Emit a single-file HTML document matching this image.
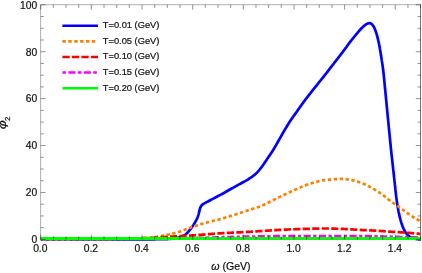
<!DOCTYPE html>
<html><head><meta charset="utf-8"><title>plot</title>
<style>
html,body{margin:0;padding:0;background:#fff;}
body{width:422px;height:273px;overflow:hidden;font-family:"Liberation Sans",sans-serif;}
svg{display:block;will-change:transform;}
</style></head><body>
<svg width="422" height="273" viewBox="0 0 422 273">
<rect x="0" y="0" width="422" height="273" fill="#ffffff"/>
<defs><clipPath id="clip"><rect x="40.3" y="3" width="380.7" height="238.2"/></clipPath></defs>
<path d="M40.6,239.4 V4.7 H420.5" stroke="#9a9a9a" stroke-width="0.8" fill="none"/>
<path d="M40.6,239.4 H420.5" stroke="#777" stroke-width="0.9" fill="none"/>
<g fill="none" stroke-linejoin="round" clip-path="url(#clip)">
<path d="M40.50,239.30 L41.00,239.30 L41.50,239.30 L42.00,239.30 L42.50,239.30 L43.00,239.30 L43.50,239.30 L44.00,239.30 L44.50,239.30 L45.00,239.30 L45.50,239.30 L46.00,239.30 L46.50,239.30 L47.00,239.30 L47.50,239.30 L48.00,239.30 L48.50,239.30 L49.00,239.30 L49.50,239.30 L50.00,239.30 L50.50,239.30 L51.00,239.30 L51.50,239.30 L52.00,239.30 L52.50,239.30 L53.00,239.30 L53.50,239.30 L54.00,239.30 L54.50,239.30 L55.00,239.30 L55.50,239.30 L56.00,239.30 L56.50,239.30 L57.00,239.30 L57.50,239.30 L58.00,239.30 L58.50,239.30 L59.00,239.30 L59.50,239.30 L60.00,239.30 L60.50,239.30 L61.00,239.30 L61.50,239.30 L62.00,239.30 L62.50,239.30 L63.00,239.30 L63.50,239.30 L64.00,239.30 L64.50,239.30 L65.00,239.30 L65.50,239.30 L66.00,239.30 L66.50,239.30 L67.00,239.30 L67.50,239.30 L68.00,239.30 L68.50,239.30 L69.00,239.30 L69.50,239.30 L70.00,239.30 L70.50,239.30 L71.00,239.30 L71.50,239.30 L72.00,239.30 L72.50,239.30 L73.00,239.30 L73.50,239.30 L74.00,239.30 L74.50,239.30 L75.00,239.30 L75.50,239.30 L76.00,239.30 L76.50,239.30 L77.00,239.30 L77.50,239.30 L78.00,239.30 L78.50,239.30 L79.00,239.30 L79.50,239.30 L80.00,239.30 L80.50,239.30 L81.00,239.30 L81.50,239.30 L82.00,239.30 L82.50,239.30 L83.00,239.30 L83.50,239.30 L84.00,239.30 L84.50,239.30 L85.00,239.30 L85.50,239.30 L86.00,239.30 L86.50,239.30 L87.00,239.30 L87.50,239.30 L88.00,239.30 L88.50,239.30 L89.00,239.30 L89.50,239.30 L90.00,239.30 L90.50,239.30 L91.00,239.30 L91.50,239.30 L92.00,239.30 L92.50,239.30 L93.00,239.30 L93.50,239.30 L94.00,239.30 L94.50,239.30 L95.00,239.30 L95.50,239.30 L96.00,239.30 L96.50,239.30 L97.00,239.30 L97.50,239.30 L98.00,239.30 L98.50,239.30 L99.00,239.30 L99.50,239.30 L100.00,239.30 L100.50,239.30 L101.00,239.30 L101.50,239.30 L102.00,239.30 L102.50,239.30 L103.00,239.30 L103.50,239.30 L104.00,239.30 L104.50,239.30 L105.00,239.30 L105.50,239.30 L106.00,239.30 L106.50,239.30 L107.00,239.30 L107.50,239.30 L108.00,239.30 L108.50,239.30 L109.00,239.30 L109.50,239.30 L110.00,239.30 L110.50,239.30 L111.00,239.30 L111.50,239.30 L112.00,239.30 L112.50,239.30 L113.00,239.30 L113.50,239.30 L114.00,239.30 L114.50,239.30 L115.00,239.30 L115.50,239.30 L116.00,239.30 L116.50,239.30 L117.00,239.30 L117.50,239.30 L118.00,239.30 L118.50,239.30 L119.00,239.30 L119.50,239.30 L120.00,239.30 L120.50,239.30 L121.00,239.30 L121.50,239.30 L122.00,239.30 L122.50,239.30 L123.00,239.30 L123.50,239.30 L124.00,239.30 L124.50,239.30 L125.00,239.30 L125.50,239.30 L126.00,239.30 L126.50,239.30 L127.00,239.30 L127.50,239.30 L128.00,239.30 L128.50,239.30 L129.00,239.30 L129.50,239.30 L130.00,239.30 L130.50,239.30 L131.00,239.30 L131.50,239.30 L132.00,239.30 L132.50,239.30 L133.00,239.30 L133.50,239.30 L134.00,239.30 L134.50,239.30 L135.00,239.30 L135.50,239.30 L136.00,239.30 L136.50,239.30 L137.00,239.30 L137.50,239.30 L138.00,239.30 L138.50,239.30 L139.00,239.30 L139.50,239.30 L140.00,239.30 L140.50,239.30 L141.00,239.30 L141.50,239.30 L142.00,239.30 L142.50,239.30 L143.00,239.30 L143.50,239.30 L144.00,239.30 L144.50,239.30 L145.00,239.30 L145.50,239.30 L146.00,239.30 L146.50,239.30 L147.00,239.30 L147.50,239.30 L148.00,239.30 L148.50,239.30 L149.00,239.30 L149.50,239.30 L150.00,239.30 L150.50,239.30 L151.00,239.30 L151.50,239.30 L152.00,239.30 L152.50,239.29 L153.00,239.29 L153.50,239.29 L154.00,239.29 L154.50,239.28 L155.00,239.28 L155.50,239.27 L156.00,239.27 L156.50,239.26 L157.00,239.26 L157.50,239.25 L158.00,239.25 L158.50,239.24 L159.00,239.23 L159.50,239.23 L160.00,239.22 L160.50,239.21 L161.00,239.20 L161.50,239.19 L162.00,239.18 L162.50,239.17 L163.00,239.16 L163.50,239.15 L164.00,239.14 L164.50,239.13 L165.00,239.12 L165.50,239.11 L166.00,239.10 L166.50,239.09 L167.00,239.07 L167.50,239.05 L168.00,239.02 L168.50,239.00 L169.00,238.96 L169.50,238.93 L170.00,238.89 L170.50,238.85 L171.00,238.81 L171.50,238.76 L171.99,238.72 L172.49,238.67 L172.99,238.61 L173.48,238.56 L173.98,238.50 L174.47,238.44 L174.97,238.37 L175.46,238.28 L175.96,238.19 L176.45,238.09 L176.94,237.98 L177.43,237.87 L177.92,237.74 L178.40,237.62 L178.88,237.48 L179.36,237.34 L179.83,237.20 L180.30,237.04 L180.77,236.87 L181.25,236.68 L181.72,236.49 L182.19,236.28 L182.65,236.06 L183.11,235.83 L183.55,235.60 L183.99,235.35 L184.42,235.10 L184.83,234.84 L185.23,234.58 L185.62,234.30 L186.00,234.00 L186.37,233.69 L186.74,233.36 L187.10,233.01 L187.45,232.65 L187.80,232.28 L188.14,231.91 L188.48,231.52 L188.81,231.13 L189.14,230.74 L189.47,230.34 L189.79,229.94 L190.10,229.55 L190.42,229.15 L190.73,228.76 L191.04,228.37 L191.34,227.98 L191.64,227.58 L191.94,227.18 L192.23,226.77 L192.52,226.36 L192.80,225.94 L193.08,225.53 L193.35,225.11 L193.63,224.68 L193.89,224.26 L194.16,223.84 L194.41,223.41 L194.67,222.98 L194.93,222.55 L195.18,222.12 L195.43,221.69 L195.68,221.25 L195.92,220.81 L196.16,220.36 L196.39,219.92 L196.61,219.47 L196.82,219.02 L197.03,218.57 L197.22,218.11 L197.41,217.65 L197.59,217.18 L197.77,216.72 L197.94,216.24 L198.11,215.77 L198.27,215.29 L198.42,214.82 L198.56,214.34 L198.69,213.86 L198.82,213.37 L198.93,212.89 L199.04,212.40 L199.15,211.91 L199.26,211.42 L199.37,210.93 L199.48,210.44 L199.60,209.96 L199.73,209.48 L199.87,209.00 L200.02,208.51 L200.17,208.03 L200.35,207.57 L200.54,207.11 L200.77,206.67 L201.04,206.24 L201.33,205.83 L201.63,205.44 L201.96,205.06 L202.32,204.70 L202.70,204.38 L203.10,204.09 L203.53,203.83 L203.97,203.58 L204.41,203.34 L204.84,203.10 L205.28,202.85 L205.72,202.62 L206.16,202.38 L206.60,202.15 L207.05,201.92 L207.49,201.69 L207.93,201.45 L208.38,201.22 L208.82,200.98 L209.26,200.75 L209.70,200.51 L210.14,200.28 L210.58,200.04 L211.02,199.80 L211.46,199.57 L211.90,199.33 L212.34,199.09 L212.78,198.86 L213.22,198.62 L213.66,198.39 L214.11,198.15 L214.55,197.91 L214.99,197.68 L215.43,197.44 L215.87,197.21 L216.31,196.98 L216.75,196.74 L217.20,196.51 L217.64,196.28 L218.08,196.05 L218.53,195.82 L218.97,195.59 L219.41,195.35 L219.86,195.12 L220.30,194.89 L220.74,194.66 L221.18,194.42 L221.63,194.19 L222.07,193.95 L222.51,193.71 L222.95,193.48 L223.38,193.23 L223.82,192.99 L224.26,192.75 L224.69,192.50 L225.13,192.26 L225.56,192.01 L226.00,191.76 L226.43,191.51 L226.86,191.26 L227.30,191.01 L227.73,190.77 L228.16,190.52 L228.60,190.27 L229.03,190.02 L229.47,189.77 L229.90,189.52 L230.33,189.27 L230.77,189.03 L231.21,188.78 L231.64,188.54 L232.08,188.30 L232.52,188.05 L232.95,187.81 L233.39,187.57 L233.83,187.32 L234.26,187.08 L234.70,186.84 L235.14,186.60 L235.58,186.35 L236.01,186.11 L236.45,185.87 L236.89,185.63 L237.33,185.39 L237.77,185.15 L238.20,184.91 L238.64,184.66 L239.08,184.42 L239.52,184.18 L239.96,183.94 L240.40,183.70 L240.84,183.47 L241.28,183.23 L241.72,182.99 L242.16,182.76 L242.60,182.52 L243.04,182.28 L243.48,182.04 L243.92,181.81 L244.36,181.56 L244.79,181.32 L245.23,181.08 L245.66,180.83 L246.10,180.58 L246.53,180.33 L246.95,180.07 L247.38,179.81 L247.81,179.55 L248.23,179.28 L248.65,179.01 L249.07,178.74 L249.49,178.47 L249.91,178.19 L250.33,177.92 L250.74,177.64 L251.16,177.36 L251.57,177.08 L251.98,176.79 L252.39,176.50 L252.80,176.21 L253.20,175.91 L253.59,175.61 L253.98,175.30 L254.37,174.98 L254.76,174.66 L255.14,174.34 L255.52,174.01 L255.89,173.67 L256.26,173.33 L256.61,172.99 L256.97,172.63 L257.31,172.27 L257.65,171.91 L257.99,171.53 L258.32,171.16 L258.65,170.78 L258.97,170.40 L259.29,170.01 L259.61,169.63 L259.92,169.24 L260.23,168.85 L260.54,168.45 L260.85,168.06 L261.15,167.66 L261.45,167.26 L261.75,166.86 L262.05,166.46 L262.34,166.05 L262.64,165.65 L262.93,165.24 L263.22,164.83 L263.51,164.43 L263.80,164.02 L264.09,163.61 L264.37,163.20 L264.65,162.79 L264.93,162.37 L265.21,161.96 L265.49,161.54 L265.77,161.13 L266.04,160.71 L266.32,160.29 L266.59,159.87 L266.87,159.46 L267.14,159.04 L267.42,158.62 L267.70,158.20 L267.97,157.79 L268.25,157.37 L268.53,156.96 L268.81,156.55 L269.10,156.13 L269.38,155.72 L269.66,155.30 L269.94,154.89 L270.22,154.48 L270.50,154.06 L270.78,153.65 L271.06,153.23 L271.34,152.82 L271.61,152.40 L271.89,151.98 L272.16,151.56 L272.43,151.14 L272.70,150.72 L272.96,150.30 L273.23,149.87 L273.49,149.45 L273.75,149.02 L274.00,148.59 L274.26,148.16 L274.51,147.73 L274.77,147.30 L275.02,146.87 L275.27,146.44 L275.52,146.00 L275.77,145.57 L276.02,145.14 L276.26,144.70 L276.51,144.27 L276.76,143.83 L277.01,143.40 L277.25,142.96 L277.50,142.53 L277.75,142.09 L277.99,141.66 L278.24,141.22 L278.49,140.79 L278.74,140.35 L278.99,139.92 L279.24,139.49 L279.48,139.05 L279.73,138.62 L279.98,138.18 L280.22,137.75 L280.47,137.31 L280.71,136.87 L280.96,136.44 L281.20,136.00 L281.45,135.57 L281.70,135.13 L281.94,134.70 L282.19,134.26 L282.43,133.83 L282.68,133.39 L282.93,132.96 L283.18,132.52 L283.43,132.09 L283.68,131.66 L283.93,131.23 L284.18,130.80 L284.44,130.37 L284.69,129.94 L284.95,129.50 L285.20,129.07 L285.46,128.64 L285.71,128.21 L285.97,127.79 L286.23,127.36 L286.49,126.93 L286.74,126.50 L287.00,126.07 L287.26,125.64 L287.52,125.22 L287.79,124.79 L288.05,124.36 L288.31,123.94 L288.58,123.52 L288.84,123.09 L289.11,122.67 L289.38,122.25 L289.65,121.83 L289.93,121.41 L290.20,121.00 L290.48,120.58 L290.76,120.17 L291.04,119.75 L291.32,119.34 L291.60,118.93 L291.89,118.52 L292.18,118.11 L292.46,117.70 L292.75,117.29 L293.04,116.89 L293.33,116.48 L293.63,116.07 L293.92,115.67 L294.21,115.26 L294.50,114.85 L294.79,114.45 L295.09,114.04 L295.38,113.63 L295.67,113.23 L295.96,112.82 L296.25,112.41 L296.54,112.00 L296.83,111.60 L297.11,111.19 L297.40,110.78 L297.69,110.37 L297.98,109.96 L298.26,109.55 L298.55,109.14 L298.84,108.73 L299.13,108.32 L299.41,107.91 L299.70,107.50 L299.99,107.09 L300.28,106.69 L300.57,106.28 L300.85,105.87 L301.14,105.46 L301.43,105.05 L301.72,104.65 L302.01,104.24 L302.31,103.83 L302.60,103.43 L302.89,103.02 L303.18,102.62 L303.48,102.21 L303.77,101.81 L304.07,101.41 L304.37,101.01 L304.67,100.61 L304.97,100.21 L305.27,99.81 L305.57,99.41 L305.87,99.01 L306.17,98.61 L306.48,98.21 L306.78,97.82 L307.09,97.42 L307.39,97.03 L307.70,96.63 L308.00,96.24 L308.31,95.84 L308.62,95.45 L308.93,95.05 L309.23,94.66 L309.54,94.26 L309.85,93.87 L310.16,93.48 L310.47,93.08 L310.78,92.69 L311.09,92.30 L311.40,91.90 L311.71,91.51 L312.02,91.12 L312.33,90.73 L312.64,90.34 L312.95,89.94 L313.26,89.55 L313.57,89.16 L313.88,88.77 L314.20,88.38 L314.51,87.99 L314.82,87.60 L315.14,87.21 L315.45,86.82 L315.76,86.43 L316.08,86.04 L316.39,85.65 L316.70,85.26 L317.02,84.88 L317.33,84.49 L317.64,84.10 L317.96,83.71 L318.27,83.32 L318.58,82.92 L318.89,82.53 L319.20,82.14 L319.52,81.75 L319.83,81.36 L320.14,80.97 L320.46,80.58 L320.77,80.19 L321.08,79.80 L321.40,79.41 L321.71,79.02 L322.02,78.63 L322.33,78.24 L322.65,77.85 L322.96,77.46 L323.27,77.07 L323.58,76.68 L323.89,76.29 L324.20,75.90 L324.51,75.51 L324.82,75.11 L325.13,74.72 L325.44,74.33 L325.75,73.93 L326.06,73.54 L326.37,73.15 L326.67,72.75 L326.98,72.36 L327.28,71.96 L327.59,71.56 L327.89,71.17 L328.20,70.77 L328.50,70.37 L328.81,69.98 L329.11,69.58 L329.42,69.18 L329.72,68.79 L330.02,68.39 L330.33,67.99 L330.63,67.60 L330.94,67.20 L331.24,66.80 L331.55,66.41 L331.85,66.01 L332.16,65.62 L332.47,65.22 L332.77,64.83 L333.08,64.43 L333.39,64.04 L333.69,63.64 L334.00,63.25 L334.30,62.85 L334.61,62.46 L334.92,62.06 L335.22,61.67 L335.53,61.27 L335.84,60.88 L336.14,60.48 L336.45,60.09 L336.76,59.69 L337.06,59.29 L337.37,58.90 L337.67,58.50 L337.98,58.11 L338.28,57.71 L338.59,57.31 L338.89,56.92 L339.20,56.52 L339.50,56.13 L339.81,55.73 L340.12,55.34 L340.42,54.94 L340.73,54.55 L341.04,54.15 L341.34,53.75 L341.65,53.36 L341.95,52.96 L342.26,52.57 L342.56,52.17 L342.87,51.77 L343.17,51.38 L343.47,50.98 L343.78,50.58 L344.08,50.18 L344.38,49.78 L344.68,49.38 L344.98,48.98 L345.27,48.58 L345.57,48.18 L345.87,47.77 L346.16,47.37 L346.44,46.96 L346.73,46.55 L347.01,46.14 L347.30,45.72 L347.59,45.31 L347.87,44.90 L348.16,44.50 L348.46,44.09 L348.75,43.69 L349.05,43.29 L349.36,42.90 L349.66,42.50 L349.97,42.10 L350.27,41.71 L350.58,41.31 L350.89,40.92 L351.20,40.53 L351.51,40.14 L351.83,39.75 L352.14,39.36 L352.45,38.97 L352.77,38.58 L353.08,38.19 L353.40,37.80 L353.72,37.42 L354.03,37.03 L354.35,36.64 L354.66,36.25 L354.98,35.87 L355.29,35.48 L355.61,35.09 L355.93,34.70 L356.24,34.31 L356.56,33.93 L356.88,33.54 L357.20,33.15 L357.52,32.77 L357.84,32.39 L358.16,32.00 L358.48,31.62 L358.81,31.24 L359.14,30.87 L359.47,30.49 L359.80,30.12 L360.14,29.75 L360.47,29.38 L360.81,29.01 L361.16,28.65 L361.51,28.29 L361.86,27.94 L362.21,27.58 L362.57,27.24 L362.94,26.89 L363.30,26.55 L363.68,26.22 L364.06,25.89 L364.45,25.58 L364.84,25.28 L365.24,24.97 L365.65,24.67 L366.07,24.39 L366.49,24.12 L366.93,23.89 L367.37,23.67 L367.84,23.48 L368.31,23.32 L368.80,23.21 L369.30,23.12 L369.79,23.11 L370.28,23.24 L370.75,23.42 L371.18,23.67 L371.57,23.99 L371.94,24.32 L372.29,24.69 L372.62,25.07 L372.92,25.46 L373.22,25.87 L373.49,26.29 L373.75,26.72 L373.98,27.16 L374.21,27.60 L374.42,28.05 L374.62,28.51 L374.82,28.97 L375.01,29.44 L375.19,29.91 L375.37,30.38 L375.54,30.85 L375.71,31.32 L375.87,31.79 L376.03,32.26 L376.18,32.74 L376.33,33.22 L376.48,33.69 L376.62,34.17 L376.76,34.66 L376.90,35.14 L377.03,35.62 L377.16,36.10 L377.29,36.59 L377.42,37.07 L377.54,37.55 L377.67,38.04 L377.79,38.52 L377.91,39.01 L378.03,39.49 L378.14,39.98 L378.26,40.47 L378.37,40.95 L378.48,41.44 L378.59,41.93 L378.69,42.42 L378.80,42.91 L378.90,43.40 L379.00,43.89 L379.10,44.38 L379.19,44.87 L379.28,45.36 L379.37,45.85 L379.46,46.34 L379.55,46.84 L379.64,47.33 L379.72,47.82 L379.81,48.31 L379.89,48.81 L379.98,49.30 L380.06,49.79 L380.15,50.29 L380.23,50.78 L380.32,51.27 L380.40,51.76 L380.49,52.26 L380.57,52.75 L380.66,53.24 L380.74,53.74 L380.82,54.23 L380.91,54.72 L380.99,55.22 L381.07,55.71 L381.15,56.20 L381.23,56.70 L381.31,57.19 L381.39,57.68 L381.47,58.18 L381.55,58.67 L381.63,59.16 L381.70,59.66 L381.78,60.15 L381.85,60.65 L381.93,61.14 L382.00,61.64 L382.08,62.13 L382.15,62.62 L382.22,63.12 L382.29,63.61 L382.36,64.11 L382.43,64.60 L382.50,65.10 L382.57,65.59 L382.64,66.09 L382.71,66.59 L382.77,67.08 L382.84,67.58 L382.91,68.07 L382.97,68.57 L383.04,69.06 L383.10,69.56 L383.16,70.06 L383.23,70.55 L383.29,71.05 L383.35,71.55 L383.41,72.04 L383.47,72.54 L383.52,73.03 L383.58,73.53 L383.64,74.03 L383.69,74.52 L383.74,75.02 L383.80,75.52 L383.85,76.02 L383.90,76.51 L383.95,77.01 L384.00,77.51 L384.05,78.01 L384.09,78.50 L384.14,79.00 L384.19,79.50 L384.24,80.00 L384.28,80.50 L384.33,80.99 L384.37,81.49 L384.42,81.99 L384.47,82.49 L384.51,82.98 L384.56,83.48 L384.61,83.98 L384.65,84.48 L384.70,84.98 L384.75,85.47 L384.80,85.97 L384.85,86.47 L384.89,86.97 L384.94,87.46 L384.99,87.96 L385.04,88.46 L385.09,88.96 L385.14,89.46 L385.19,89.95 L385.24,90.45 L385.29,90.95 L385.33,91.45 L385.38,91.94 L385.43,92.44 L385.48,92.94 L385.53,93.44 L385.58,93.93 L385.63,94.43 L385.68,94.93 L385.73,95.43 L385.77,95.92 L385.82,96.42 L385.87,96.92 L385.92,97.42 L385.97,97.91 L386.02,98.41 L386.07,98.91 L386.12,99.41 L386.17,99.90 L386.21,100.40 L386.26,100.90 L386.31,101.40 L386.36,101.90 L386.41,102.39 L386.46,102.89 L386.51,103.39 L386.55,103.89 L386.60,104.38 L386.65,104.88 L386.70,105.38 L386.75,105.88 L386.80,106.37 L386.85,106.87 L386.89,107.37 L386.94,107.87 L386.99,108.36 L387.04,108.86 L387.09,109.36 L387.13,109.86 L387.18,110.36 L387.23,110.85 L387.28,111.35 L387.33,111.85 L387.38,112.35 L387.42,112.84 L387.47,113.34 L387.52,113.84 L387.57,114.34 L387.62,114.83 L387.67,115.33 L387.71,115.83 L387.76,116.33 L387.81,116.83 L387.86,117.32 L387.91,117.82 L387.96,118.32 L388.00,118.82 L388.05,119.31 L388.10,119.81 L388.15,120.31 L388.20,120.81 L388.25,121.30 L388.30,121.80 L388.34,122.30 L388.39,122.80 L388.44,123.29 L388.49,123.79 L388.54,124.29 L388.59,124.79 L388.63,125.28 L388.68,125.78 L388.73,126.28 L388.78,126.78 L388.83,127.28 L388.88,127.77 L388.93,128.27 L388.98,128.77 L389.02,129.27 L389.07,129.76 L389.12,130.26 L389.17,130.76 L389.22,131.26 L389.27,131.75 L389.32,132.25 L389.36,132.75 L389.41,133.25 L389.46,133.74 L389.51,134.24 L389.56,134.74 L389.61,135.24 L389.66,135.74 L389.71,136.23 L389.75,136.73 L389.80,137.23 L389.85,137.73 L389.90,138.22 L389.95,138.72 L390.00,139.22 L390.04,139.72 L390.09,140.21 L390.14,140.71 L390.19,141.21 L390.24,141.71 L390.28,142.20 L390.33,142.70 L390.38,143.20 L390.43,143.70 L390.48,144.20 L390.53,144.69 L390.58,145.19 L390.63,145.69 L390.68,146.19 L390.73,146.68 L390.78,147.18 L390.83,147.68 L390.88,148.18 L390.93,148.67 L390.99,149.17 L391.04,149.67 L391.09,150.16 L391.14,150.66 L391.20,151.16 L391.25,151.66 L391.31,152.15 L391.36,152.65 L391.41,153.15 L391.47,153.64 L391.52,154.14 L391.58,154.64 L391.64,155.13 L391.69,155.63 L391.75,156.13 L391.80,156.62 L391.86,157.12 L391.91,157.62 L391.97,158.12 L392.03,158.61 L392.08,159.11 L392.14,159.61 L392.19,160.10 L392.25,160.60 L392.31,161.10 L392.36,161.59 L392.42,162.09 L392.47,162.59 L392.53,163.08 L392.59,163.58 L392.64,164.08 L392.70,164.57 L392.75,165.07 L392.81,165.57 L392.86,166.07 L392.92,166.56 L392.97,167.06 L393.03,167.56 L393.08,168.05 L393.14,168.55 L393.19,169.05 L393.25,169.54 L393.30,170.04 L393.35,170.54 L393.41,171.04 L393.46,171.53 L393.52,172.03 L393.57,172.53 L393.63,173.02 L393.68,173.52 L393.73,174.02 L393.79,174.52 L393.84,175.01 L393.90,175.51 L393.95,176.01 L394.01,176.50 L394.06,177.00 L394.11,177.50 L394.17,177.99 L394.22,178.49 L394.28,178.99 L394.33,179.49 L394.38,179.98 L394.44,180.48 L394.49,180.98 L394.55,181.47 L394.60,181.97 L394.66,182.47 L394.71,182.96 L394.76,183.46 L394.82,183.96 L394.87,184.46 L394.93,184.95 L394.98,185.45 L395.04,185.95 L395.09,186.44 L395.14,186.94 L395.19,187.44 L395.25,187.94 L395.30,188.43 L395.35,188.93 L395.40,189.43 L395.45,189.93 L395.51,190.42 L395.56,190.92 L395.61,191.42 L395.66,191.92 L395.72,192.41 L395.77,192.91 L395.83,193.41 L395.88,193.90 L395.94,194.40 L396.00,194.90 L396.05,195.39 L396.11,195.89 L396.17,196.39 L396.23,196.88 L396.30,197.38 L396.36,197.87 L396.43,198.37 L396.49,198.86 L396.56,199.36 L396.63,199.86 L396.70,200.35 L396.77,200.85 L396.84,201.34 L396.91,201.84 L396.98,202.33 L397.06,202.83 L397.13,203.32 L397.21,203.81 L397.29,204.31 L397.37,204.80 L397.45,205.30 L397.53,205.79 L397.61,206.28 L397.69,206.78 L397.78,207.27 L397.86,207.76 L397.95,208.25 L398.04,208.74 L398.13,209.24 L398.22,209.73 L398.31,210.22 L398.40,210.71 L398.50,211.20 L398.59,211.70 L398.69,212.19 L398.79,212.68 L398.89,213.17 L399.00,213.66 L399.10,214.15 L399.21,214.63 L399.32,215.12 L399.43,215.61 L399.54,216.10 L399.65,216.58 L399.77,217.07 L399.89,217.55 L400.01,218.04 L400.13,218.52 L400.26,219.01 L400.39,219.49 L400.52,219.97 L400.65,220.46 L400.79,220.94 L400.93,221.42 L401.08,221.90 L401.22,222.38 L401.37,222.86 L401.53,223.33 L401.68,223.81 L401.85,224.28 L402.01,224.75 L402.18,225.22 L402.35,225.68 L402.53,226.15 L402.72,226.62 L402.91,227.08 L403.11,227.55 L403.31,228.01 L403.52,228.46 L403.73,228.92 L403.95,229.37 L404.18,229.81 L404.41,230.25 L404.65,230.69 L404.89,231.12 L405.15,231.55 L405.42,231.98 L405.69,232.40 L405.98,232.82 L406.27,233.23 L406.58,233.63 L406.89,234.02 L407.21,234.39 L407.54,234.76 L407.88,235.13 L408.24,235.49 L408.61,235.85 L408.99,236.18 L409.39,236.49 L409.79,236.77 L410.20,237.02 L410.63,237.25 L411.08,237.47 L411.54,237.67 L412.01,237.87 L412.49,238.05 L412.97,238.21 L413.46,238.36 L413.94,238.48 L414.42,238.60 L414.90,238.71 L415.39,238.80 L415.89,238.90 L416.38,238.98 L416.88,239.05 L417.38,239.12 L417.88,239.19 L418.37,239.24 L418.87,239.30 L419.36,239.34 L419.86,239.39 L420.36,239.43 L420.86,239.47 L421.36,239.49 L421.50,239.50" stroke="#0000ff" stroke-width="2.7"/>
<path d="M40.50,239.30 L41.00,239.30 L41.50,239.30 L42.00,239.30 L42.50,239.30 L43.00,239.30 L43.50,239.30 L44.00,239.30 L44.50,239.30 L45.00,239.30 L45.50,239.30 L46.00,239.30 L46.50,239.30 L47.00,239.30 L47.50,239.30 L48.00,239.30 L48.50,239.30 L49.00,239.30 L49.50,239.30 L50.00,239.30 L50.50,239.30 L51.00,239.30 L51.50,239.30 L52.00,239.30 L52.50,239.30 L53.00,239.30 L53.50,239.30 L54.00,239.29 L54.50,239.29 L55.00,239.29 L55.50,239.29 L56.00,239.29 L56.50,239.29 L57.00,239.29 L57.50,239.29 L58.00,239.29 L58.50,239.29 L59.00,239.29 L59.50,239.29 L60.00,239.29 L60.50,239.29 L61.00,239.29 L61.50,239.29 L62.00,239.29 L62.50,239.29 L63.00,239.29 L63.50,239.29 L64.00,239.28 L64.50,239.28 L65.00,239.28 L65.50,239.28 L66.00,239.28 L66.50,239.28 L67.00,239.28 L67.50,239.28 L68.00,239.28 L68.50,239.28 L69.00,239.28 L69.50,239.28 L70.00,239.28 L70.50,239.27 L71.00,239.27 L71.50,239.27 L72.00,239.27 L72.50,239.27 L73.00,239.27 L73.50,239.27 L74.00,239.27 L74.50,239.27 L75.00,239.27 L75.50,239.27 L76.00,239.26 L76.50,239.26 L77.00,239.26 L77.50,239.26 L78.00,239.26 L78.50,239.26 L79.00,239.26 L79.50,239.26 L80.00,239.26 L80.50,239.25 L81.00,239.25 L81.50,239.25 L82.00,239.25 L82.50,239.25 L83.00,239.25 L83.50,239.25 L84.00,239.25 L84.50,239.25 L85.00,239.24 L85.50,239.24 L86.00,239.24 L86.50,239.24 L87.00,239.24 L87.50,239.24 L88.00,239.24 L88.50,239.23 L89.00,239.23 L89.50,239.23 L90.00,239.23 L90.50,239.23 L91.00,239.23 L91.50,239.23 L92.00,239.23 L92.50,239.22 L93.00,239.22 L93.50,239.22 L94.00,239.22 L94.50,239.22 L95.00,239.22 L95.50,239.21 L96.00,239.21 L96.50,239.21 L97.00,239.21 L97.50,239.21 L98.00,239.21 L98.50,239.20 L99.00,239.20 L99.50,239.20 L100.00,239.20 L100.50,239.20 L101.00,239.20 L101.50,239.19 L102.00,239.19 L102.50,239.19 L103.00,239.18 L103.50,239.18 L104.00,239.18 L104.50,239.17 L105.00,239.17 L105.50,239.16 L106.00,239.16 L106.50,239.15 L107.00,239.15 L107.50,239.14 L108.00,239.14 L108.50,239.13 L109.00,239.13 L109.50,239.12 L110.00,239.11 L110.50,239.11 L111.00,239.10 L111.50,239.09 L112.00,239.08 L112.50,239.08 L113.00,239.07 L113.50,239.06 L114.00,239.05 L114.50,239.04 L115.00,239.03 L115.50,239.03 L116.00,239.02 L116.50,239.01 L117.00,239.00 L117.50,238.99 L118.00,238.98 L118.50,238.97 L119.00,238.96 L119.50,238.95 L120.00,238.94 L120.50,238.93 L121.00,238.92 L121.50,238.90 L122.00,238.89 L122.50,238.88 L123.00,238.87 L123.50,238.86 L124.00,238.85 L124.50,238.84 L125.00,238.82 L125.50,238.81 L126.00,238.80 L126.50,238.79 L127.00,238.78 L127.50,238.76 L128.00,238.75 L128.50,238.74 L129.00,238.73 L129.50,238.71 L130.00,238.70 L130.50,238.69 L131.00,238.67 L131.50,238.66 L132.00,238.64 L132.50,238.63 L133.00,238.61 L133.50,238.60 L134.00,238.58 L134.50,238.56 L135.00,238.54 L135.50,238.53 L136.00,238.51 L136.50,238.49 L137.00,238.47 L137.50,238.45 L138.00,238.42 L138.50,238.40 L139.00,238.38 L139.50,238.36 L140.00,238.33 L140.50,238.31 L141.00,238.28 L141.50,238.26 L142.00,238.23 L142.50,238.20 L143.00,238.17 L143.50,238.14 L144.00,238.11 L144.50,238.08 L144.99,238.05 L145.49,238.02 L145.99,237.99 L146.49,237.96 L146.99,237.92 L147.49,237.89 L147.98,237.85 L148.48,237.82 L148.98,237.78 L149.47,237.74 L149.97,237.70 L150.47,237.66 L150.96,237.62 L151.46,237.57 L151.96,237.51 L152.45,237.45 L152.95,237.39 L153.44,237.33 L153.94,237.26 L154.43,237.19 L154.93,237.12 L155.42,237.04 L155.92,236.96 L156.41,236.88 L156.91,236.80 L157.40,236.71 L157.89,236.62 L158.39,236.53 L158.88,236.44 L159.37,236.35 L159.86,236.26 L160.36,236.16 L160.85,236.07 L161.34,235.97 L161.83,235.88 L162.32,235.78 L162.82,235.69 L163.31,235.59 L163.80,235.50 L164.29,235.40 L164.78,235.31 L165.27,235.21 L165.76,235.11 L166.25,235.02 L166.74,234.91 L167.23,234.81 L167.72,234.71 L168.21,234.61 L168.70,234.50 L169.19,234.39 L169.68,234.28 L170.17,234.17 L170.65,234.06 L171.14,233.95 L171.63,233.83 L172.12,233.72 L172.60,233.60 L173.09,233.48 L173.58,233.36 L174.06,233.23 L174.55,233.11 L175.03,232.98 L175.51,232.86 L176.00,232.73 L176.48,232.60 L176.96,232.47 L177.44,232.33 L177.92,232.20 L178.40,232.06 L178.88,231.92 L179.35,231.77 L179.83,231.62 L180.30,231.47 L180.77,231.31 L181.24,231.15 L181.71,230.98 L182.18,230.81 L182.65,230.64 L183.12,230.46 L183.59,230.28 L184.05,230.10 L184.52,229.92 L184.98,229.73 L185.45,229.55 L185.92,229.36 L186.38,229.17 L186.85,228.99 L187.31,228.80 L187.78,228.61 L188.24,228.43 L188.71,228.24 L189.18,228.06 L189.64,227.88 L190.11,227.70 L190.58,227.52 L191.05,227.35 L191.52,227.18 L191.99,227.01 L192.46,226.85 L192.94,226.69 L193.41,226.53 L193.88,226.38 L194.36,226.22 L194.83,226.07 L195.31,225.91 L195.79,225.76 L196.26,225.61 L196.74,225.46 L197.22,225.31 L197.69,225.16 L198.17,225.01 L198.65,224.86 L199.13,224.72 L199.61,224.57 L200.09,224.43 L200.57,224.28 L201.04,224.14 L201.52,224.00 L202.00,223.86 L202.49,223.72 L202.97,223.58 L203.45,223.44 L203.93,223.30 L204.41,223.16 L204.89,223.03 L205.37,222.89 L205.85,222.76 L206.34,222.63 L206.82,222.49 L207.30,222.36 L207.78,222.23 L208.26,222.10 L208.75,221.98 L209.23,221.85 L209.72,221.73 L210.20,221.61 L210.69,221.49 L211.17,221.37 L211.66,221.26 L212.15,221.14 L212.63,221.03 L213.12,220.92 L213.61,220.80 L214.10,220.69 L214.58,220.57 L215.07,220.46 L215.56,220.34 L216.04,220.23 L216.53,220.11 L217.02,219.99 L217.50,219.87 L217.98,219.75 L218.47,219.62 L218.95,219.49 L219.43,219.36 L219.91,219.23 L220.40,219.10 L220.88,218.96 L221.36,218.82 L221.84,218.68 L222.32,218.54 L222.80,218.40 L223.27,218.26 L223.75,218.11 L224.23,217.97 L224.71,217.82 L225.19,217.67 L225.66,217.52 L226.14,217.37 L226.62,217.22 L227.10,217.07 L227.57,216.92 L228.05,216.77 L228.53,216.62 L229.00,216.47 L229.48,216.31 L229.96,216.16 L230.43,216.01 L230.91,215.86 L231.39,215.70 L231.86,215.55 L232.34,215.40 L232.82,215.25 L233.29,215.10 L233.77,214.95 L234.25,214.80 L234.72,214.65 L235.20,214.50 L235.68,214.35 L236.15,214.19 L236.63,214.04 L237.11,213.89 L237.58,213.74 L238.06,213.59 L238.54,213.44 L239.01,213.28 L239.49,213.13 L239.96,212.98 L240.44,212.83 L240.92,212.67 L241.39,212.52 L241.87,212.37 L242.34,212.21 L242.82,212.06 L243.30,211.91 L243.77,211.75 L244.25,211.60 L244.72,211.44 L245.20,211.29 L245.67,211.13 L246.15,210.98 L246.62,210.82 L247.10,210.66 L247.57,210.51 L248.05,210.35 L248.52,210.20 L249.00,210.04 L249.48,209.89 L249.95,209.74 L250.43,209.58 L250.91,209.43 L251.39,209.28 L251.86,209.13 L252.34,208.98 L252.82,208.83 L253.30,208.68 L253.78,208.53 L254.25,208.38 L254.73,208.22 L255.21,208.07 L255.68,207.91 L256.16,207.76 L256.64,207.60 L257.11,207.44 L257.58,207.28 L258.06,207.12 L258.53,206.95 L259.00,206.79 L259.47,206.62 L259.93,206.44 L260.40,206.27 L260.87,206.09 L261.33,205.91 L261.79,205.72 L262.25,205.54 L262.71,205.34 L263.17,205.14 L263.62,204.93 L264.07,204.72 L264.52,204.50 L264.97,204.27 L265.42,204.05 L265.86,203.82 L266.31,203.60 L266.76,203.37 L267.21,203.14 L267.65,202.92 L268.10,202.70 L268.55,202.48 L269.00,202.26 L269.45,202.04 L269.90,201.82 L270.34,201.59 L270.79,201.37 L271.24,201.15 L271.69,200.92 L272.13,200.70 L272.58,200.48 L273.03,200.25 L273.47,200.03 L273.92,199.80 L274.37,199.58 L274.82,199.36 L275.26,199.13 L275.71,198.91 L276.16,198.69 L276.61,198.46 L277.05,198.24 L277.50,198.02 L277.95,197.80 L278.40,197.58 L278.85,197.36 L279.30,197.14 L279.75,196.92 L280.20,196.70 L280.65,196.49 L281.10,196.27 L281.55,196.05 L282.00,195.84 L282.45,195.62 L282.90,195.40 L283.35,195.18 L283.80,194.97 L284.25,194.75 L284.70,194.54 L285.16,194.32 L285.61,194.10 L286.06,193.89 L286.51,193.68 L286.96,193.46 L287.41,193.25 L287.87,193.03 L288.32,192.82 L288.77,192.61 L289.23,192.40 L289.68,192.19 L290.13,191.98 L290.59,191.77 L291.04,191.56 L291.50,191.35 L291.95,191.15 L292.41,190.94 L292.86,190.74 L293.32,190.53 L293.78,190.33 L294.23,190.13 L294.69,189.93 L295.15,189.73 L295.61,189.52 L296.06,189.32 L296.52,189.12 L296.98,188.91 L297.44,188.71 L297.89,188.50 L298.35,188.30 L298.81,188.09 L299.27,187.89 L299.73,187.69 L300.19,187.49 L300.65,187.29 L301.11,187.09 L301.57,186.89 L302.03,186.69 L302.49,186.50 L302.95,186.31 L303.42,186.12 L303.88,185.93 L304.35,185.74 L304.81,185.56 L305.28,185.38 L305.74,185.20 L306.21,185.03 L306.68,184.86 L307.15,184.69 L307.62,184.53 L308.09,184.37 L308.56,184.21 L309.03,184.06 L309.51,183.91 L309.98,183.75 L310.46,183.60 L310.93,183.44 L311.41,183.29 L311.89,183.14 L312.37,182.99 L312.85,182.84 L313.33,182.69 L313.81,182.54 L314.29,182.40 L314.77,182.25 L315.26,182.11 L315.74,181.98 L316.23,181.84 L316.71,181.71 L317.20,181.58 L317.68,181.46 L318.17,181.33 L318.66,181.22 L319.14,181.10 L319.63,181.00 L320.12,180.89 L320.61,180.79 L321.10,180.70 L321.59,180.61 L322.08,180.53 L322.57,180.45 L323.06,180.38 L323.55,180.31 L324.04,180.24 L324.54,180.18 L325.03,180.11 L325.53,180.05 L326.02,179.99 L326.52,179.93 L327.01,179.87 L327.51,179.82 L328.01,179.77 L328.51,179.71 L329.01,179.67 L329.51,179.62 L330.01,179.57 L330.51,179.53 L331.01,179.48 L331.51,179.44 L332.01,179.40 L332.51,179.36 L333.01,179.33 L333.51,179.29 L334.00,179.26 L334.50,179.23 L335.00,179.20 L335.50,179.17 L336.00,179.14 L336.50,179.11 L337.00,179.08 L337.50,179.05 L338.00,179.03 L338.50,179.00 L339.00,178.98 L339.50,178.96 L340.00,178.94 L340.50,178.92 L341.00,178.91 L341.50,178.90 L342.00,178.90 L342.50,178.90 L342.99,178.92 L343.49,178.94 L343.99,178.97 L344.49,179.01 L344.99,179.05 L345.49,179.10 L345.99,179.16 L346.49,179.22 L346.99,179.28 L347.48,179.35 L347.98,179.42 L348.47,179.48 L348.97,179.55 L349.46,179.62 L349.95,179.70 L350.44,179.79 L350.93,179.88 L351.42,179.98 L351.91,180.09 L352.40,180.21 L352.88,180.33 L353.37,180.46 L353.86,180.58 L354.34,180.72 L354.82,180.85 L355.31,180.99 L355.79,181.13 L356.27,181.26 L356.75,181.40 L357.23,181.54 L357.70,181.69 L358.18,181.83 L358.66,181.99 L359.14,182.14 L359.61,182.30 L360.08,182.47 L360.56,182.63 L361.03,182.80 L361.50,182.98 L361.97,183.15 L362.43,183.33 L362.90,183.52 L363.36,183.70 L363.82,183.89 L364.28,184.09 L364.74,184.28 L365.19,184.49 L365.64,184.70 L366.10,184.91 L366.55,185.13 L367.00,185.35 L367.44,185.58 L367.89,185.81 L368.34,186.04 L368.78,186.27 L369.22,186.51 L369.67,186.74 L370.11,186.98 L370.55,187.22 L370.98,187.45 L371.42,187.69 L371.86,187.94 L372.29,188.18 L372.73,188.43 L373.16,188.68 L373.59,188.93 L374.02,189.19 L374.45,189.45 L374.88,189.71 L375.31,189.97 L375.74,190.23 L376.16,190.49 L376.58,190.76 L377.01,191.03 L377.43,191.30 L377.85,191.57 L378.27,191.84 L378.68,192.11 L379.10,192.39 L379.52,192.67 L379.93,192.95 L380.34,193.23 L380.76,193.51 L381.17,193.80 L381.58,194.09 L381.98,194.38 L382.39,194.67 L382.80,194.96 L383.20,195.26 L383.60,195.55 L384.01,195.85 L384.41,196.15 L384.80,196.45 L385.20,196.75 L385.59,197.06 L385.98,197.38 L386.37,197.70 L386.75,198.02 L387.13,198.34 L387.51,198.67 L387.89,198.99 L388.28,199.32 L388.66,199.64 L389.04,199.96 L389.43,200.28 L389.82,200.59 L390.21,200.90 L390.61,201.20 L391.01,201.50 L391.41,201.79 L391.82,202.08 L392.23,202.36 L392.64,202.64 L393.06,202.92 L393.48,203.20 L393.89,203.47 L394.31,203.75 L394.73,204.02 L395.15,204.29 L395.57,204.57 L395.99,204.84 L396.41,205.12 L396.82,205.40 L397.24,205.68 L397.65,205.96 L398.06,206.25 L398.47,206.54 L398.87,206.83 L399.28,207.12 L399.69,207.41 L400.09,207.70 L400.50,208.00 L400.90,208.29 L401.31,208.58 L401.71,208.88 L402.11,209.17 L402.52,209.47 L402.92,209.76 L403.33,210.06 L403.73,210.35 L404.13,210.65 L404.54,210.94 L404.94,211.23 L405.35,211.53 L405.75,211.82 L406.16,212.12 L406.56,212.42 L406.96,212.71 L407.36,213.01 L407.77,213.31 L408.17,213.61 L408.57,213.90 L408.98,214.20 L409.38,214.49 L409.79,214.78 L410.19,215.07 L410.60,215.36 L411.02,215.64 L411.43,215.92 L411.84,216.20 L412.26,216.47 L412.68,216.74 L413.11,217.00 L413.53,217.26 L413.96,217.52 L414.39,217.78 L414.82,218.03 L415.25,218.28 L415.69,218.53 L416.12,218.78 L416.56,219.03 L416.99,219.28 L417.42,219.53 L417.86,219.78 L418.29,220.03 L418.72,220.29 L419.15,220.54 L419.58,220.79 L420.02,221.04 L420.45,221.29 L420.88,221.54 L421.31,221.79 L421.50,221.90" stroke="#ff8000" stroke-width="2.7" stroke-dasharray="3.4 2.5" stroke-dashoffset="-2.4"/>
<path d="M40.50,238.60 L41.00,238.60 L41.50,238.60 L42.00,238.60 L42.50,238.60 L43.00,238.60 L43.50,238.60 L44.00,238.60 L44.50,238.60 L45.00,238.60 L45.50,238.60 L46.00,238.60 L46.50,238.60 L47.00,238.60 L47.50,238.60 L48.00,238.60 L48.50,238.60 L49.00,238.60 L49.50,238.60 L50.00,238.60 L50.50,238.60 L51.00,238.60 L51.50,238.60 L52.00,238.60 L52.50,238.60 L53.00,238.60 L53.50,238.60 L54.00,238.60 L54.50,238.60 L55.00,238.60 L55.50,238.60 L56.00,238.60 L56.50,238.60 L57.00,238.60 L57.50,238.60 L58.00,238.60 L58.50,238.60 L59.00,238.60 L59.50,238.59 L60.00,238.59 L60.50,238.59 L61.00,238.59 L61.50,238.59 L62.00,238.59 L62.50,238.59 L63.00,238.59 L63.50,238.59 L64.00,238.59 L64.50,238.59 L65.00,238.59 L65.50,238.59 L66.00,238.59 L66.50,238.59 L67.00,238.59 L67.50,238.59 L68.00,238.59 L68.50,238.59 L69.00,238.59 L69.50,238.59 L70.00,238.59 L70.50,238.59 L71.00,238.59 L71.50,238.59 L72.00,238.59 L72.50,238.59 L73.00,238.58 L73.50,238.58 L74.00,238.58 L74.50,238.58 L75.00,238.58 L75.50,238.58 L76.00,238.58 L76.50,238.58 L77.00,238.58 L77.50,238.58 L78.00,238.58 L78.50,238.58 L79.00,238.58 L79.50,238.58 L80.00,238.58 L80.50,238.58 L81.00,238.58 L81.50,238.58 L82.00,238.57 L82.50,238.57 L83.00,238.57 L83.50,238.57 L84.00,238.57 L84.50,238.57 L85.00,238.57 L85.50,238.57 L86.00,238.57 L86.50,238.57 L87.00,238.57 L87.50,238.57 L88.00,238.57 L88.50,238.57 L89.00,238.56 L89.50,238.56 L90.00,238.56 L90.50,238.56 L91.00,238.56 L91.50,238.56 L92.00,238.56 L92.50,238.56 L93.00,238.56 L93.50,238.56 L94.00,238.56 L94.50,238.56 L95.00,238.56 L95.50,238.55 L96.00,238.55 L96.50,238.55 L97.00,238.55 L97.50,238.55 L98.00,238.55 L98.50,238.55 L99.00,238.55 L99.50,238.55 L100.00,238.55 L100.50,238.54 L101.00,238.54 L101.50,238.54 L102.00,238.54 L102.50,238.54 L103.00,238.54 L103.50,238.54 L104.00,238.54 L104.50,238.54 L105.00,238.54 L105.50,238.53 L106.00,238.53 L106.50,238.53 L107.00,238.53 L107.50,238.53 L108.00,238.53 L108.50,238.53 L109.00,238.53 L109.50,238.53 L110.00,238.52 L110.50,238.52 L111.00,238.52 L111.50,238.52 L112.00,238.52 L112.50,238.52 L113.00,238.52 L113.50,238.52 L114.00,238.52 L114.50,238.51 L115.00,238.51 L115.50,238.51 L116.00,238.51 L116.50,238.51 L117.00,238.51 L117.50,238.51 L118.00,238.51 L118.50,238.50 L119.00,238.50 L119.50,238.50 L120.00,238.50 L120.50,238.50 L121.00,238.50 L121.50,238.49 L122.00,238.49 L122.50,238.49 L123.00,238.49 L123.50,238.48 L124.00,238.48 L124.50,238.48 L125.00,238.47 L125.50,238.47 L126.00,238.47 L126.50,238.46 L127.00,238.46 L127.50,238.45 L128.00,238.45 L128.50,238.44 L129.00,238.43 L129.50,238.43 L130.00,238.42 L130.50,238.42 L131.00,238.41 L131.50,238.40 L132.00,238.40 L132.50,238.39 L133.00,238.38 L133.50,238.37 L134.00,238.37 L134.50,238.36 L135.00,238.35 L135.50,238.34 L136.00,238.33 L136.50,238.32 L137.00,238.31 L137.50,238.30 L138.00,238.29 L138.50,238.28 L139.00,238.27 L139.50,238.26 L140.00,238.25 L140.50,238.24 L141.00,238.23 L141.50,238.22 L142.00,238.21 L142.50,238.20 L143.00,238.19 L143.50,238.17 L144.00,238.16 L144.50,238.15 L145.00,238.14 L145.50,238.12 L146.00,238.11 L146.50,238.10 L147.00,238.08 L147.50,238.07 L148.00,238.06 L148.50,238.04 L149.00,238.03 L149.50,238.01 L150.00,238.00 L150.50,237.98 L150.99,237.97 L151.49,237.94 L151.99,237.92 L152.49,237.89 L152.99,237.86 L153.49,237.83 L153.99,237.80 L154.49,237.77 L154.99,237.73 L155.48,237.69 L155.98,237.65 L156.48,237.61 L156.98,237.57 L157.48,237.53 L157.98,237.49 L158.48,237.45 L158.97,237.41 L159.47,237.37 L159.97,237.33 L160.47,237.28 L160.97,237.24 L161.47,237.20 L161.97,237.16 L162.46,237.13 L162.96,237.09 L163.46,237.06 L163.96,237.02 L164.46,236.99 L164.96,236.96 L165.46,236.93 L165.96,236.90 L166.46,236.87 L166.96,236.84 L167.45,236.81 L167.95,236.78 L168.45,236.75 L168.95,236.72 L169.45,236.69 L169.95,236.67 L170.45,236.64 L170.95,236.61 L171.45,236.58 L171.95,236.56 L172.45,236.53 L172.95,236.50 L173.45,236.48 L173.95,236.45 L174.44,236.42 L174.94,236.40 L175.44,236.37 L175.94,236.34 L176.44,236.32 L176.94,236.29 L177.44,236.27 L177.94,236.24 L178.44,236.21 L178.94,236.19 L179.44,236.16 L179.94,236.14 L180.44,236.11 L180.94,236.08 L181.44,236.06 L181.93,236.03 L182.43,236.00 L182.93,235.98 L183.43,235.95 L183.93,235.92 L184.43,235.90 L184.93,235.87 L185.43,235.84 L185.93,235.82 L186.43,235.79 L186.93,235.76 L187.43,235.73 L187.93,235.70 L188.42,235.67 L188.92,235.64 L189.42,235.61 L189.92,235.59 L190.42,235.55 L190.92,235.52 L191.42,235.49 L191.92,235.46 L192.42,235.43 L192.92,235.40 L193.41,235.37 L193.91,235.33 L194.41,235.30 L194.91,235.27 L195.41,235.23 L195.91,235.19 L196.41,235.16 L196.91,235.12 L197.40,235.08 L197.90,235.05 L198.40,235.01 L198.90,234.97 L199.40,234.93 L199.90,234.89 L200.40,234.85 L200.89,234.82 L201.39,234.78 L201.89,234.74 L202.39,234.70 L202.89,234.65 L203.39,234.61 L203.89,234.57 L204.38,234.53 L204.88,234.49 L205.38,234.45 L205.88,234.41 L206.38,234.37 L206.88,234.33 L207.37,234.29 L207.87,234.25 L208.37,234.21 L208.87,234.17 L209.37,234.13 L209.87,234.09 L210.36,234.05 L210.86,234.01 L211.36,233.97 L211.86,233.93 L212.36,233.89 L212.86,233.85 L213.36,233.81 L213.85,233.78 L214.35,233.74 L214.85,233.70 L215.35,233.67 L215.85,233.63 L216.35,233.60 L216.85,233.56 L217.34,233.53 L217.84,233.49 L218.34,233.46 L218.84,233.43 L219.34,233.40 L219.84,233.37 L220.34,233.34 L220.84,233.31 L221.34,233.28 L221.84,233.25 L222.33,233.22 L222.83,233.19 L223.33,233.16 L223.83,233.13 L224.33,233.11 L224.83,233.08 L225.33,233.05 L225.83,233.03 L226.33,233.00 L226.83,232.97 L227.33,232.95 L227.83,232.92 L228.33,232.90 L228.82,232.87 L229.32,232.85 L229.82,232.82 L230.32,232.80 L230.82,232.77 L231.32,232.75 L231.82,232.72 L232.32,232.70 L232.82,232.67 L233.32,232.65 L233.82,232.63 L234.32,232.60 L234.82,232.58 L235.32,232.55 L235.82,232.53 L236.32,232.50 L236.82,232.48 L237.32,232.46 L237.81,232.43 L238.31,232.41 L238.81,232.38 L239.31,232.36 L239.81,232.33 L240.31,232.31 L240.81,232.28 L241.31,232.26 L241.81,232.23 L242.31,232.21 L242.81,232.18 L243.31,232.15 L243.81,232.13 L244.31,232.10 L244.81,232.07 L245.31,232.05 L245.80,232.02 L246.30,231.99 L246.80,231.96 L247.30,231.93 L247.80,231.91 L248.30,231.88 L248.80,231.85 L249.30,231.82 L249.80,231.79 L250.30,231.76 L250.80,231.73 L251.29,231.69 L251.79,231.66 L252.29,231.63 L252.79,231.60 L253.29,231.57 L253.79,231.53 L254.29,231.50 L254.79,231.47 L255.29,231.44 L255.79,231.40 L256.28,231.37 L256.78,231.34 L257.28,231.30 L257.78,231.27 L258.28,231.24 L258.78,231.20 L259.28,231.17 L259.78,231.14 L260.28,231.11 L260.77,231.07 L261.27,231.04 L261.77,231.01 L262.27,230.97 L262.77,230.94 L263.27,230.91 L263.77,230.88 L264.27,230.85 L264.77,230.81 L265.27,230.78 L265.76,230.75 L266.26,230.72 L266.76,230.69 L267.26,230.66 L267.76,230.62 L268.26,230.59 L268.76,230.56 L269.26,230.53 L269.76,230.50 L270.26,230.46 L270.75,230.43 L271.25,230.40 L271.75,230.37 L272.25,230.34 L272.75,230.30 L273.25,230.27 L273.75,230.24 L274.25,230.21 L274.75,230.18 L275.25,230.15 L275.74,230.12 L276.24,230.09 L276.74,230.06 L277.24,230.03 L277.74,230.01 L278.24,229.98 L278.74,229.95 L279.24,229.93 L279.74,229.90 L280.24,229.88 L280.74,229.85 L281.24,229.83 L281.74,229.81 L282.24,229.78 L282.73,229.76 L283.23,229.73 L283.73,229.71 L284.23,229.69 L284.73,229.66 L285.23,229.64 L285.73,229.61 L286.23,229.59 L286.73,229.57 L287.23,229.55 L287.73,229.52 L288.23,229.50 L288.73,229.48 L289.23,229.46 L289.73,229.43 L290.23,229.41 L290.73,229.39 L291.23,229.37 L291.73,229.35 L292.23,229.33 L292.73,229.31 L293.22,229.29 L293.72,229.27 L294.22,229.25 L294.72,229.23 L295.22,229.21 L295.72,229.19 L296.22,229.17 L296.72,229.15 L297.22,229.13 L297.72,229.11 L298.22,229.10 L298.72,229.08 L299.22,229.06 L299.72,229.04 L300.22,229.03 L300.72,229.01 L301.22,229.00 L301.72,228.98 L302.22,228.97 L302.72,228.95 L303.22,228.94 L303.72,228.92 L304.22,228.91 L304.72,228.90 L305.22,228.88 L305.72,228.87 L306.22,228.86 L306.72,228.84 L307.22,228.83 L307.72,228.82 L308.22,228.80 L308.72,228.79 L309.22,228.78 L309.72,228.76 L310.22,228.75 L310.72,228.74 L311.22,228.72 L311.72,228.71 L312.22,228.70 L312.72,228.68 L313.22,228.67 L313.72,228.66 L314.22,228.65 L314.72,228.64 L315.22,228.62 L315.72,228.61 L316.22,228.60 L316.72,228.59 L317.22,228.58 L317.72,228.57 L318.22,228.56 L318.72,228.56 L319.22,228.55 L319.72,228.54 L320.22,228.53 L320.72,228.53 L321.22,228.52 L321.72,228.52 L322.21,228.51 L322.71,228.51 L323.21,228.50 L323.71,228.50 L324.21,228.50 L324.71,228.50 L325.21,228.50 L325.71,228.50 L326.21,228.50 L326.71,228.51 L327.21,228.51 L327.71,228.52 L328.21,228.52 L328.71,228.53 L329.21,228.54 L329.71,228.55 L330.21,228.55 L330.71,228.56 L331.21,228.58 L331.71,228.59 L332.21,228.60 L332.71,228.61 L333.21,228.62 L333.71,228.64 L334.21,228.65 L334.71,228.67 L335.21,228.68 L335.71,228.70 L336.21,228.71 L336.71,228.73 L337.21,228.74 L337.71,228.76 L338.21,228.78 L338.71,228.79 L339.21,228.81 L339.71,228.83 L340.21,228.84 L340.71,228.86 L341.21,228.88 L341.71,228.89 L342.21,228.91 L342.71,228.93 L343.21,228.95 L343.71,228.97 L344.21,228.99 L344.71,229.01 L345.21,229.03 L345.71,229.05 L346.20,229.08 L346.70,229.10 L347.20,229.13 L347.70,229.16 L348.20,229.18 L348.70,229.21 L349.20,229.24 L349.70,229.27 L350.20,229.30 L350.70,229.33 L351.20,229.36 L351.70,229.39 L352.20,229.42 L352.69,229.45 L353.19,229.48 L353.69,229.51 L354.19,229.54 L354.69,229.57 L355.19,229.60 L355.69,229.63 L356.19,229.67 L356.69,229.70 L357.19,229.73 L357.69,229.76 L358.19,229.79 L358.68,229.82 L359.18,229.85 L359.68,229.87 L360.18,229.90 L360.68,229.93 L361.18,229.96 L361.68,229.98 L362.18,230.01 L362.68,230.03 L363.18,230.06 L363.68,230.08 L364.18,230.11 L364.68,230.13 L365.18,230.16 L365.68,230.18 L366.17,230.20 L366.67,230.23 L367.17,230.25 L367.67,230.27 L368.17,230.29 L368.67,230.32 L369.17,230.34 L369.67,230.36 L370.17,230.39 L370.67,230.41 L371.17,230.43 L371.67,230.46 L372.17,230.48 L372.67,230.51 L373.17,230.53 L373.67,230.56 L374.17,230.58 L374.67,230.61 L375.16,230.64 L375.66,230.66 L376.16,230.69 L376.66,230.72 L377.16,230.75 L377.66,230.78 L378.16,230.81 L378.66,230.85 L379.16,230.88 L379.66,230.91 L380.15,230.95 L380.65,230.98 L381.15,231.02 L381.65,231.05 L382.15,231.09 L382.65,231.13 L383.15,231.16 L383.65,231.20 L384.14,231.24 L384.64,231.27 L385.14,231.31 L385.64,231.35 L386.14,231.38 L386.64,231.42 L387.14,231.46 L387.63,231.49 L388.13,231.53 L388.63,231.56 L389.13,231.60 L389.63,231.63 L390.13,231.67 L390.63,231.70 L391.13,231.73 L391.63,231.77 L392.12,231.80 L392.62,231.83 L393.12,231.86 L393.62,231.89 L394.12,231.92 L394.62,231.95 L395.12,231.98 L395.62,232.01 L396.12,232.04 L396.62,232.07 L397.12,232.10 L397.61,232.13 L398.11,232.16 L398.61,232.19 L399.11,232.22 L399.61,232.25 L400.11,232.28 L400.61,232.31 L401.11,232.35 L401.61,232.38 L402.11,232.41 L402.60,232.44 L403.10,232.48 L403.60,232.51 L404.10,232.54 L404.60,232.58 L405.10,232.61 L405.60,232.65 L406.10,232.69 L406.59,232.72 L407.09,232.76 L407.59,232.80 L408.09,232.84 L408.59,232.88 L409.09,232.91 L409.59,232.95 L410.08,232.99 L410.58,233.03 L411.08,233.07 L411.58,233.11 L412.08,233.16 L412.58,233.20 L413.07,233.24 L413.57,233.28 L414.07,233.32 L414.57,233.37 L415.07,233.41 L415.56,233.45 L416.06,233.50 L416.56,233.54 L417.06,233.59 L417.56,233.63 L418.05,233.68 L418.55,233.72 L419.05,233.77 L419.55,233.82 L420.05,233.86 L420.54,233.91 L421.04,233.96 L421.50,234.00" stroke="#ff0000" stroke-width="2.7" stroke-dasharray="7.2 2.3" stroke-dashoffset="3.5"/>
<path d="M40.50,238.60 L41.00,238.60 L41.50,238.60 L42.00,238.60 L42.50,238.60 L43.00,238.60 L43.50,238.60 L44.00,238.60 L44.50,238.60 L45.00,238.60 L45.50,238.60 L46.00,238.60 L46.50,238.60 L47.00,238.60 L47.50,238.60 L48.00,238.60 L48.50,238.60 L49.00,238.60 L49.50,238.60 L50.00,238.60 L50.50,238.60 L51.00,238.60 L51.50,238.60 L52.00,238.60 L52.50,238.60 L53.00,238.60 L53.50,238.60 L54.00,238.60 L54.50,238.60 L55.00,238.60 L55.50,238.60 L56.00,238.60 L56.50,238.60 L57.00,238.60 L57.50,238.60 L58.00,238.60 L58.50,238.60 L59.00,238.60 L59.50,238.60 L60.00,238.60 L60.50,238.60 L61.00,238.60 L61.50,238.60 L62.00,238.60 L62.50,238.60 L63.00,238.60 L63.50,238.60 L64.00,238.60 L64.50,238.60 L65.00,238.60 L65.50,238.60 L66.00,238.59 L66.50,238.59 L67.00,238.59 L67.50,238.59 L68.00,238.59 L68.50,238.59 L69.00,238.59 L69.50,238.59 L70.00,238.59 L70.50,238.59 L71.00,238.59 L71.50,238.59 L72.00,238.59 L72.50,238.59 L73.00,238.59 L73.50,238.59 L74.00,238.59 L74.50,238.59 L75.00,238.59 L75.50,238.59 L76.00,238.59 L76.50,238.59 L77.00,238.59 L77.50,238.59 L78.00,238.59 L78.50,238.59 L79.00,238.59 L79.50,238.59 L80.00,238.59 L80.50,238.59 L81.00,238.59 L81.50,238.59 L82.00,238.59 L82.50,238.59 L83.00,238.59 L83.50,238.59 L84.00,238.58 L84.50,238.58 L85.00,238.58 L85.50,238.58 L86.00,238.58 L86.50,238.58 L87.00,238.58 L87.50,238.58 L88.00,238.58 L88.50,238.58 L89.00,238.58 L89.50,238.58 L90.00,238.58 L90.50,238.58 L91.00,238.58 L91.50,238.58 L92.00,238.58 L92.50,238.58 L93.00,238.58 L93.50,238.58 L94.00,238.58 L94.50,238.58 L95.00,238.58 L95.50,238.58 L96.00,238.58 L96.50,238.57 L97.00,238.57 L97.50,238.57 L98.00,238.57 L98.50,238.57 L99.00,238.57 L99.50,238.57 L100.00,238.57 L100.50,238.57 L101.00,238.57 L101.50,238.57 L102.00,238.57 L102.50,238.57 L103.00,238.57 L103.50,238.57 L104.00,238.57 L104.50,238.57 L105.00,238.57 L105.50,238.57 L106.00,238.57 L106.50,238.56 L107.00,238.56 L107.50,238.56 L108.00,238.56 L108.50,238.56 L109.00,238.56 L109.50,238.56 L110.00,238.56 L110.50,238.56 L111.00,238.56 L111.50,238.56 L112.00,238.56 L112.50,238.56 L113.00,238.56 L113.50,238.56 L114.00,238.56 L114.50,238.56 L115.00,238.55 L115.50,238.55 L116.00,238.55 L116.50,238.55 L117.00,238.55 L117.50,238.55 L118.00,238.55 L118.50,238.55 L119.00,238.55 L119.50,238.55 L120.00,238.55 L120.50,238.55 L121.00,238.55 L121.50,238.55 L122.00,238.55 L122.50,238.55 L123.00,238.54 L123.50,238.54 L124.00,238.54 L124.50,238.54 L125.00,238.54 L125.50,238.54 L126.00,238.54 L126.50,238.54 L127.00,238.54 L127.50,238.54 L128.00,238.54 L128.50,238.54 L129.00,238.54 L129.50,238.53 L130.00,238.53 L130.50,238.53 L131.00,238.53 L131.50,238.53 L132.00,238.53 L132.50,238.53 L133.00,238.53 L133.50,238.53 L134.00,238.53 L134.50,238.53 L135.00,238.53 L135.50,238.53 L136.00,238.52 L136.50,238.52 L137.00,238.52 L137.50,238.52 L138.00,238.52 L138.50,238.52 L139.00,238.52 L139.50,238.52 L140.00,238.52 L140.50,238.52 L141.00,238.52 L141.50,238.52 L142.00,238.51 L142.50,238.51 L143.00,238.51 L143.50,238.51 L144.00,238.51 L144.50,238.51 L145.00,238.51 L145.50,238.51 L146.00,238.51 L146.50,238.51 L147.00,238.51 L147.50,238.50 L148.00,238.50 L148.50,238.50 L149.00,238.50 L149.50,238.50 L150.00,238.50 L150.50,238.50 L151.00,238.50 L151.50,238.50 L152.00,238.50 L152.50,238.49 L153.00,238.49 L153.50,238.49 L154.00,238.49 L154.50,238.49 L155.00,238.48 L155.50,238.48 L156.00,238.48 L156.50,238.48 L157.00,238.47 L157.50,238.47 L158.00,238.47 L158.50,238.46 L159.00,238.46 L159.50,238.46 L160.00,238.45 L160.50,238.45 L161.00,238.45 L161.50,238.44 L162.00,238.44 L162.50,238.43 L163.00,238.43 L163.50,238.43 L164.00,238.42 L164.50,238.42 L165.00,238.41 L165.50,238.41 L166.00,238.40 L166.50,238.40 L167.00,238.39 L167.50,238.39 L168.00,238.38 L168.50,238.38 L169.00,238.37 L169.50,238.37 L170.00,238.36 L170.50,238.35 L171.00,238.35 L171.50,238.34 L172.00,238.34 L172.50,238.33 L173.00,238.32 L173.50,238.32 L174.00,238.31 L174.50,238.31 L175.00,238.30 L175.50,238.29 L176.00,238.29 L176.50,238.28 L177.00,238.27 L177.50,238.27 L178.00,238.26 L178.50,238.25 L179.00,238.24 L179.50,238.24 L180.00,238.23 L180.50,238.22 L181.00,238.22 L181.50,238.21 L182.00,238.20 L182.50,238.19 L183.00,238.19 L183.50,238.18 L184.00,238.17 L184.50,238.16 L185.00,238.15 L185.50,238.15 L186.00,238.14 L186.50,238.13 L187.00,238.12 L187.50,238.11 L188.00,238.11 L188.50,238.10 L189.00,238.09 L189.50,238.08 L190.00,238.07 L190.50,238.06 L191.00,238.06 L191.50,238.05 L192.00,238.04 L192.50,238.03 L193.00,238.02 L193.50,238.01 L194.00,238.01 L194.50,238.00 L195.00,237.99 L195.50,237.98 L196.00,237.97 L196.50,237.96 L197.00,237.95 L197.50,237.94 L198.00,237.94 L198.50,237.93 L199.00,237.92 L199.50,237.91 L200.00,237.90 L200.50,237.89 L201.00,237.88 L201.50,237.87 L202.00,237.86 L202.50,237.85 L203.00,237.84 L203.50,237.83 L204.00,237.81 L204.49,237.80 L204.99,237.79 L205.49,237.78 L205.99,237.76 L206.49,237.75 L206.99,237.73 L207.49,237.72 L207.99,237.70 L208.49,237.69 L208.99,237.67 L209.49,237.66 L209.99,237.64 L210.49,237.63 L210.99,237.61 L211.49,237.59 L211.99,237.58 L212.49,237.56 L212.99,237.54 L213.49,237.53 L213.99,237.51 L214.49,237.49 L214.99,237.47 L215.49,237.46 L215.99,237.44 L216.49,237.42 L216.99,237.40 L217.49,237.39 L217.99,237.37 L218.49,237.35 L218.99,237.34 L219.49,237.32 L219.99,237.30 L220.49,237.28 L220.99,237.27 L221.49,237.25 L221.99,237.23 L222.49,237.22 L222.99,237.20 L223.49,237.19 L223.99,237.17 L224.49,237.15 L224.98,237.14 L225.48,237.12 L225.98,237.11 L226.48,237.09 L226.98,237.08 L227.48,237.07 L227.98,237.05 L228.48,237.04 L228.98,237.03 L229.48,237.01 L229.98,237.00 L230.48,236.99 L230.98,236.98 L231.48,236.96 L231.98,236.95 L232.48,236.94 L232.98,236.93 L233.48,236.92 L233.98,236.91 L234.48,236.89 L234.98,236.88 L235.48,236.87 L235.98,236.86 L236.48,236.85 L236.98,236.84 L237.48,236.82 L237.98,236.81 L238.48,236.80 L238.98,236.79 L239.48,236.78 L239.98,236.77 L240.48,236.76 L240.98,236.75 L241.48,236.73 L241.98,236.72 L242.48,236.71 L242.98,236.70 L243.48,236.69 L243.98,236.68 L244.48,236.67 L244.98,236.66 L245.48,236.65 L245.98,236.64 L246.48,236.63 L246.98,236.62 L247.48,236.61 L247.98,236.60 L248.48,236.59 L248.98,236.58 L249.48,236.57 L249.98,236.56 L250.48,236.55 L250.98,236.54 L251.48,236.53 L251.98,236.53 L252.48,236.52 L252.98,236.51 L253.48,236.50 L253.98,236.49 L254.48,236.48 L254.98,236.47 L255.48,236.47 L255.98,236.46 L256.48,236.45 L256.98,236.44 L257.48,236.44 L257.98,236.43 L258.48,236.42 L258.98,236.41 L259.48,236.41 L259.98,236.40 L260.48,236.39 L260.98,236.39 L261.48,236.38 L261.98,236.37 L262.48,236.37 L262.98,236.36 L263.48,236.35 L263.98,236.35 L264.48,236.34 L264.98,236.34 L265.48,236.33 L265.98,236.32 L266.48,236.32 L266.98,236.31 L267.48,236.30 L267.98,236.30 L268.48,236.29 L268.98,236.29 L269.48,236.28 L269.98,236.27 L270.48,236.27 L270.98,236.26 L271.48,236.26 L271.98,236.25 L272.48,236.25 L272.98,236.24 L273.48,236.23 L273.98,236.23 L274.48,236.22 L274.98,236.22 L275.48,236.21 L275.98,236.21 L276.48,236.20 L276.98,236.20 L277.48,236.19 L277.98,236.19 L278.48,236.18 L278.98,236.18 L279.48,236.18 L279.98,236.17 L280.48,236.17 L280.98,236.16 L281.48,236.16 L281.98,236.15 L282.48,236.15 L282.98,236.15 L283.48,236.14 L283.98,236.14 L284.48,236.13 L284.98,236.13 L285.48,236.13 L285.98,236.12 L286.48,236.12 L286.98,236.12 L287.48,236.11 L287.98,236.11 L288.48,236.11 L288.98,236.11 L289.48,236.10 L289.98,236.10 L290.48,236.10 L290.98,236.10 L291.48,236.09 L291.98,236.09 L292.48,236.09 L292.98,236.09 L293.48,236.08 L293.98,236.08 L294.48,236.08 L294.98,236.08 L295.48,236.07 L295.98,236.07 L296.48,236.07 L296.98,236.07 L297.48,236.06 L297.98,236.06 L298.48,236.06 L298.98,236.06 L299.48,236.05 L299.98,236.05 L300.48,236.05 L300.98,236.05 L301.48,236.05 L301.98,236.04 L302.48,236.04 L302.98,236.04 L303.48,236.04 L303.98,236.04 L304.48,236.03 L304.98,236.03 L305.48,236.03 L305.98,236.03 L306.48,236.03 L306.98,236.02 L307.48,236.02 L307.98,236.02 L308.48,236.02 L308.98,236.02 L309.48,236.02 L309.98,236.01 L310.48,236.01 L310.98,236.01 L311.48,236.01 L311.98,236.01 L312.48,236.01 L312.98,236.01 L313.48,236.01 L313.98,236.01 L314.48,236.00 L314.98,236.00 L315.48,236.00 L315.98,236.00 L316.48,236.00 L316.98,236.00 L317.48,236.00 L317.98,236.00 L318.48,236.00 L318.98,236.00 L319.48,236.00 L319.98,236.00 L320.48,236.00 L320.98,236.00 L321.48,236.00 L321.98,236.00 L322.48,236.00 L322.98,236.00 L323.48,236.00 L323.98,236.00 L324.48,236.00 L324.98,236.00 L325.48,236.00 L325.98,236.00 L326.48,236.00 L326.98,236.00 L327.48,236.00 L327.98,236.00 L328.48,236.00 L328.98,236.01 L329.48,236.01 L329.98,236.01 L330.48,236.01 L330.98,236.01 L331.48,236.01 L331.98,236.01 L332.48,236.01 L332.98,236.01 L333.48,236.01 L333.98,236.01 L334.48,236.01 L334.98,236.01 L335.48,236.01 L335.98,236.02 L336.48,236.02 L336.98,236.02 L337.48,236.02 L337.98,236.02 L338.48,236.02 L338.98,236.02 L339.48,236.02 L339.98,236.02 L340.48,236.03 L340.98,236.03 L341.48,236.03 L341.98,236.03 L342.48,236.03 L342.98,236.03 L343.48,236.03 L343.98,236.03 L344.48,236.03 L344.98,236.04 L345.48,236.04 L345.98,236.04 L346.48,236.04 L346.98,236.04 L347.48,236.04 L347.98,236.04 L348.48,236.05 L348.98,236.05 L349.48,236.05 L349.98,236.05 L350.48,236.05 L350.98,236.05 L351.48,236.06 L351.98,236.06 L352.48,236.06 L352.98,236.06 L353.48,236.06 L353.98,236.07 L354.48,236.07 L354.98,236.07 L355.48,236.08 L355.98,236.08 L356.48,236.08 L356.98,236.09 L357.48,236.09 L357.98,236.10 L358.48,236.10 L358.98,236.11 L359.48,236.11 L359.98,236.11 L360.48,236.12 L360.98,236.13 L361.48,236.13 L361.98,236.14 L362.48,236.14 L362.98,236.15 L363.48,236.15 L363.98,236.16 L364.48,236.16 L364.98,236.17 L365.48,236.18 L365.97,236.18 L366.47,236.19 L366.97,236.20 L367.47,236.20 L367.97,236.21 L368.47,236.22 L368.97,236.22 L369.47,236.23 L369.97,236.24 L370.47,236.25 L370.97,236.25 L371.47,236.26 L371.97,236.27 L372.47,236.28 L372.97,236.28 L373.47,236.29 L373.97,236.30 L374.47,236.31 L374.97,236.32 L375.47,236.32 L375.97,236.33 L376.47,236.34 L376.97,236.35 L377.47,236.36 L377.97,236.37 L378.47,236.37 L378.97,236.38 L379.47,236.39 L379.97,236.40 L380.47,236.41 L380.97,236.42 L381.47,236.43 L381.97,236.44 L382.47,236.45 L382.97,236.46 L383.47,236.48 L383.97,236.49 L384.47,236.51 L384.97,236.52 L385.47,236.54 L385.97,236.55 L386.47,236.57 L386.97,236.58 L387.47,236.60 L387.97,236.62 L388.47,236.63 L388.97,236.65 L389.47,236.67 L389.97,236.68 L390.47,236.70 L390.97,236.72 L391.47,236.74 L391.97,236.75 L392.47,236.77 L392.97,236.79 L393.47,236.81 L393.97,236.82 L394.47,236.84 L394.97,236.86 L395.47,236.87 L395.97,236.89 L396.47,236.90 L396.97,236.92 L397.47,236.93 L397.96,236.95 L398.46,236.96 L398.96,236.97 L399.46,236.99 L399.96,237.00 L400.46,237.01 L400.96,237.02 L401.46,237.03 L401.96,237.04 L402.46,237.06 L402.96,237.07 L403.46,237.08 L403.96,237.09 L404.46,237.10 L404.96,237.11 L405.46,237.12 L405.96,237.13 L406.46,237.14 L406.96,237.15 L407.46,237.16 L407.96,237.17 L408.46,237.18 L408.96,237.19 L409.46,237.20 L409.96,237.21 L410.46,237.22 L410.96,237.23 L411.46,237.24 L411.96,237.25 L412.46,237.26 L412.96,237.27 L413.46,237.28 L413.96,237.29 L414.46,237.29 L414.96,237.30 L415.46,237.31 L415.96,237.32 L416.46,237.33 L416.96,237.34 L417.46,237.34 L417.96,237.35 L418.46,237.36 L418.96,237.37 L419.46,237.37 L419.96,237.38 L420.46,237.39 L420.96,237.39 L421.46,237.40 L421.50,237.40" stroke="#ff00ff" stroke-width="2.7" stroke-dasharray="3.3 2.4 7.2 2.4" stroke-dashoffset="2.7"/>
<path d="M40.50,238.55 L41.00,238.55 L41.50,238.55 L42.00,238.55 L42.50,238.55 L43.00,238.55 L43.50,238.55 L44.00,238.55 L44.50,238.55 L45.00,238.55 L45.50,238.55 L46.00,238.55 L46.50,238.55 L47.00,238.55 L47.50,238.55 L48.00,238.55 L48.50,238.55 L49.00,238.55 L49.50,238.55 L50.00,238.55 L50.50,238.55 L51.00,238.55 L51.50,238.55 L52.00,238.55 L52.50,238.55 L53.00,238.55 L53.50,238.55 L54.00,238.55 L54.50,238.55 L55.00,238.55 L55.50,238.55 L56.00,238.55 L56.50,238.55 L57.00,238.55 L57.50,238.55 L58.00,238.55 L58.50,238.55 L59.00,238.55 L59.50,238.55 L60.00,238.55 L60.50,238.55 L61.00,238.55 L61.50,238.55 L62.00,238.55 L62.50,238.55 L63.00,238.55 L63.50,238.55 L64.00,238.55 L64.50,238.55 L65.00,238.55 L65.50,238.55 L66.00,238.55 L66.50,238.55 L67.00,238.55 L67.50,238.55 L68.00,238.55 L68.50,238.55 L69.00,238.55 L69.50,238.55 L70.00,238.55 L70.50,238.54 L71.00,238.54 L71.50,238.54 L72.00,238.54 L72.50,238.54 L73.00,238.54 L73.50,238.54 L74.00,238.54 L74.50,238.54 L75.00,238.54 L75.50,238.54 L76.00,238.54 L76.50,238.54 L77.00,238.54 L77.50,238.54 L78.00,238.54 L78.50,238.54 L79.00,238.54 L79.50,238.54 L80.00,238.54 L80.50,238.54 L81.00,238.54 L81.50,238.54 L82.00,238.54 L82.50,238.54 L83.00,238.54 L83.50,238.54 L84.00,238.54 L84.50,238.54 L85.00,238.54 L85.50,238.54 L86.00,238.54 L86.50,238.54 L87.00,238.54 L87.50,238.54 L88.00,238.54 L88.50,238.54 L89.00,238.54 L89.50,238.54 L90.00,238.54 L90.50,238.54 L91.00,238.54 L91.50,238.54 L92.00,238.54 L92.50,238.54 L93.00,238.54 L93.50,238.54 L94.00,238.54 L94.50,238.53 L95.00,238.53 L95.50,238.53 L96.00,238.53 L96.50,238.53 L97.00,238.53 L97.50,238.53 L98.00,238.53 L98.50,238.53 L99.00,238.53 L99.50,238.53 L100.00,238.53 L100.50,238.53 L101.00,238.53 L101.50,238.53 L102.00,238.53 L102.50,238.53 L103.00,238.53 L103.50,238.53 L104.00,238.53 L104.50,238.53 L105.00,238.53 L105.50,238.53 L106.00,238.53 L106.50,238.53 L107.00,238.53 L107.50,238.53 L108.00,238.53 L108.50,238.53 L109.00,238.53 L109.50,238.53 L110.00,238.53 L110.50,238.53 L111.00,238.53 L111.50,238.53 L112.00,238.52 L112.50,238.52 L113.00,238.52 L113.50,238.52 L114.00,238.52 L114.50,238.52 L115.00,238.52 L115.50,238.52 L116.00,238.52 L116.50,238.52 L117.00,238.52 L117.50,238.52 L118.00,238.52 L118.50,238.52 L119.00,238.52 L119.50,238.52 L120.00,238.52 L120.50,238.52 L121.00,238.52 L121.50,238.52 L122.00,238.52 L122.50,238.52 L123.00,238.52 L123.50,238.52 L124.00,238.52 L124.50,238.52 L125.00,238.52 L125.50,238.52 L126.00,238.52 L126.50,238.52 L127.00,238.52 L127.50,238.52 L128.00,238.51 L128.50,238.51 L129.00,238.51 L129.50,238.51 L130.00,238.51 L130.50,238.51 L131.00,238.51 L131.50,238.51 L132.00,238.51 L132.50,238.51 L133.00,238.51 L133.50,238.51 L134.00,238.51 L134.50,238.51 L135.00,238.51 L135.50,238.51 L136.00,238.51 L136.50,238.51 L137.00,238.51 L137.50,238.51 L138.00,238.51 L138.50,238.51 L139.00,238.51 L139.50,238.51 L140.00,238.51 L140.50,238.51 L141.00,238.51 L141.50,238.51 L142.00,238.51 L142.50,238.51 L143.00,238.50 L143.50,238.50 L144.00,238.50 L144.50,238.50 L145.00,238.50 L145.50,238.50 L146.00,238.50 L146.50,238.50 L147.00,238.50 L147.50,238.50 L148.00,238.50 L148.50,238.50 L149.00,238.50 L149.50,238.50 L150.00,238.50 L150.50,238.50 L151.00,238.50 L151.50,238.50 L152.00,238.50 L152.50,238.50 L153.00,238.50 L153.50,238.50 L154.00,238.50 L154.50,238.50 L155.00,238.50 L155.50,238.50 L156.00,238.50 L156.50,238.49 L157.00,238.49 L157.50,238.49 L158.00,238.49 L158.50,238.49 L159.00,238.49 L159.50,238.49 L160.00,238.49 L160.50,238.49 L161.00,238.49 L161.50,238.49 L162.00,238.49 L162.50,238.49 L163.00,238.49 L163.50,238.49 L164.00,238.49 L164.50,238.49 L165.00,238.49 L165.50,238.49 L166.00,238.48 L166.50,238.48 L167.00,238.48 L167.50,238.48 L168.00,238.48 L168.50,238.48 L169.00,238.48 L169.50,238.48 L170.00,238.48 L170.50,238.48 L171.00,238.48 L171.50,238.48 L172.00,238.48 L172.50,238.48 L173.00,238.48 L173.50,238.48 L174.00,238.47 L174.50,238.47 L175.00,238.47 L175.50,238.47 L176.00,238.47 L176.50,238.47 L177.00,238.47 L177.50,238.47 L178.00,238.47 L178.50,238.47 L179.00,238.47 L179.50,238.47 L180.00,238.47 L180.50,238.47 L181.00,238.47 L181.50,238.46 L182.00,238.46 L182.50,238.46 L183.00,238.46 L183.50,238.46 L184.00,238.46 L184.50,238.46 L185.00,238.46 L185.50,238.46 L186.00,238.46 L186.50,238.46 L187.00,238.46 L187.50,238.46 L188.00,238.46 L188.50,238.45 L189.00,238.45 L189.50,238.45 L190.00,238.45 L190.50,238.45 L191.00,238.45 L191.50,238.45 L192.00,238.45 L192.50,238.45 L193.00,238.45 L193.50,238.45 L194.00,238.45 L194.50,238.45 L195.00,238.44 L195.50,238.44 L196.00,238.44 L196.50,238.44 L197.00,238.44 L197.50,238.44 L198.00,238.44 L198.50,238.44 L199.00,238.44 L199.50,238.44 L200.00,238.44 L200.50,238.44 L201.00,238.44 L201.50,238.44 L202.00,238.43 L202.50,238.43 L203.00,238.43 L203.50,238.43 L204.00,238.43 L204.50,238.43 L205.00,238.43 L205.50,238.43 L206.00,238.43 L206.50,238.43 L207.00,238.43 L207.50,238.43 L208.00,238.43 L208.50,238.43 L209.00,238.42 L209.50,238.42 L210.00,238.42 L210.50,238.42 L211.00,238.42 L211.50,238.42 L212.00,238.42 L212.50,238.42 L213.00,238.42 L213.50,238.42 L214.00,238.42 L214.50,238.42 L215.00,238.42 L215.50,238.42 L216.00,238.42 L216.50,238.41 L217.00,238.41 L217.50,238.41 L218.00,238.41 L218.50,238.41 L219.00,238.41 L219.50,238.41 L220.00,238.41 L220.50,238.41 L221.00,238.41 L221.50,238.41 L222.00,238.41 L222.50,238.41 L223.00,238.41 L223.50,238.41 L224.00,238.41 L224.50,238.41 L225.00,238.40 L225.50,238.40 L226.00,238.40 L226.50,238.40 L227.00,238.40 L227.50,238.40 L228.00,238.40 L228.50,238.40 L229.00,238.40 L229.50,238.40 L230.00,238.40 L230.50,238.40 L231.00,238.40 L231.50,238.40 L232.00,238.40 L232.50,238.40 L233.00,238.40 L233.50,238.40 L234.00,238.40 L234.50,238.40 L235.00,238.40 L235.50,238.39 L236.00,238.39 L236.50,238.39 L237.00,238.39 L237.50,238.39 L238.00,238.39 L238.50,238.39 L239.00,238.39 L239.50,238.39 L240.00,238.39 L240.50,238.39 L241.00,238.39 L241.50,238.39 L242.00,238.39 L242.50,238.39 L243.00,238.39 L243.50,238.39 L244.00,238.39 L244.50,238.39 L245.00,238.39 L245.50,238.39 L246.00,238.38 L246.50,238.38 L247.00,238.38 L247.50,238.38 L248.00,238.38 L248.50,238.38 L249.00,238.38 L249.50,238.38 L250.00,238.38 L250.50,238.38 L251.00,238.38 L251.50,238.38 L252.00,238.38 L252.50,238.38 L253.00,238.38 L253.50,238.38 L254.00,238.38 L254.50,238.38 L255.00,238.38 L255.50,238.38 L256.00,238.38 L256.50,238.37 L257.00,238.37 L257.50,238.37 L258.00,238.37 L258.50,238.37 L259.00,238.37 L259.50,238.37 L260.00,238.37 L260.50,238.37 L261.00,238.37 L261.50,238.37 L262.00,238.37 L262.50,238.37 L263.00,238.37 L263.50,238.37 L264.00,238.37 L264.50,238.37 L265.00,238.37 L265.50,238.37 L266.00,238.37 L266.50,238.37 L267.00,238.37 L267.50,238.37 L268.00,238.36 L268.50,238.36 L269.00,238.36 L269.50,238.36 L270.00,238.36 L270.50,238.36 L271.00,238.36 L271.50,238.36 L272.00,238.36 L272.50,238.36 L273.00,238.36 L273.50,238.36 L274.00,238.36 L274.50,238.36 L275.00,238.36 L275.50,238.36 L276.00,238.36 L276.50,238.36 L277.00,238.36 L277.50,238.36 L278.00,238.36 L278.50,238.36 L279.00,238.36 L279.50,238.36 L280.00,238.36 L280.50,238.36 L281.00,238.36 L281.50,238.36 L282.00,238.36 L282.50,238.35 L283.00,238.35 L283.50,238.35 L284.00,238.35 L284.50,238.35 L285.00,238.35 L285.50,238.35 L286.00,238.35 L286.50,238.35 L287.00,238.35 L287.50,238.35 L288.00,238.35 L288.50,238.35 L289.00,238.35 L289.50,238.35 L290.00,238.35 L290.50,238.35 L291.00,238.35 L291.50,238.35 L292.00,238.35 L292.50,238.35 L293.00,238.35 L293.50,238.35 L294.00,238.35 L294.50,238.35 L295.00,238.35 L295.50,238.35 L296.00,238.35 L296.50,238.35 L297.00,238.35 L297.50,238.35 L298.00,238.35 L298.50,238.35 L299.00,238.35 L299.50,238.35 L300.00,238.35 L300.50,238.35 L301.00,238.35 L301.50,238.35 L302.00,238.35 L302.50,238.35 L303.00,238.35 L303.50,238.35 L304.00,238.35 L304.50,238.35 L305.00,238.35 L305.50,238.35 L306.00,238.35 L306.50,238.35 L307.00,238.35 L307.50,238.35 L308.00,238.35 L308.50,238.35 L309.00,238.35 L309.50,238.35 L310.00,238.35 L310.50,238.35 L311.00,238.35 L311.50,238.35 L312.00,238.35 L312.50,238.35 L313.00,238.35 L313.50,238.35 L314.00,238.35 L314.50,238.35 L315.00,238.35 L315.50,238.35 L316.00,238.35 L316.50,238.35 L317.00,238.35 L317.50,238.35 L318.00,238.35 L318.50,238.35 L319.00,238.35 L319.50,238.35 L320.00,238.35 L320.50,238.35 L321.00,238.35 L321.50,238.35 L322.00,238.35 L322.50,238.35 L323.00,238.36 L323.50,238.36 L324.00,238.36 L324.50,238.36 L325.00,238.36 L325.50,238.36 L326.00,238.36 L326.50,238.36 L327.00,238.36 L327.50,238.36 L328.00,238.36 L328.50,238.36 L329.00,238.36 L329.50,238.36 L330.00,238.36 L330.50,238.36 L331.00,238.36 L331.50,238.36 L332.00,238.36 L332.50,238.36 L333.00,238.36 L333.50,238.36 L334.00,238.36 L334.50,238.36 L335.00,238.36 L335.50,238.36 L336.00,238.36 L336.50,238.36 L337.00,238.36 L337.50,238.36 L338.00,238.36 L338.50,238.36 L339.00,238.36 L339.50,238.36 L340.00,238.36 L340.50,238.36 L341.00,238.37 L341.50,238.37 L342.00,238.37 L342.50,238.37 L343.00,238.37 L343.50,238.37 L344.00,238.37 L344.50,238.37 L345.00,238.37 L345.50,238.37 L346.00,238.37 L346.50,238.37 L347.00,238.37 L347.50,238.37 L348.00,238.37 L348.50,238.37 L349.00,238.37 L349.50,238.37 L350.00,238.37 L350.50,238.37 L351.00,238.37 L351.50,238.37 L352.00,238.37 L352.50,238.37 L353.00,238.37 L353.50,238.37 L354.00,238.38 L354.50,238.38 L355.00,238.38 L355.50,238.38 L356.00,238.38 L356.50,238.38 L357.00,238.38 L357.50,238.38 L358.00,238.38 L358.50,238.38 L359.00,238.38 L359.50,238.38 L360.00,238.38 L360.50,238.38 L361.00,238.38 L361.50,238.38 L362.00,238.38 L362.50,238.38 L363.00,238.38 L363.50,238.38 L364.00,238.38 L364.50,238.38 L365.00,238.38 L365.50,238.39 L366.00,238.39 L366.50,238.39 L367.00,238.39 L367.50,238.39 L368.00,238.39 L368.50,238.39 L369.00,238.39 L369.50,238.39 L370.00,238.39 L370.50,238.39 L371.00,238.39 L371.50,238.39 L372.00,238.39 L372.50,238.39 L373.00,238.39 L373.50,238.39 L374.00,238.39 L374.50,238.39 L375.00,238.39 L375.50,238.40 L376.00,238.40 L376.50,238.40 L377.00,238.40 L377.50,238.40 L378.00,238.40 L378.50,238.40 L379.00,238.40 L379.50,238.40 L380.00,238.40 L380.50,238.40 L381.00,238.40 L381.50,238.40 L382.00,238.40 L382.50,238.40 L383.00,238.40 L383.50,238.40 L384.00,238.41 L384.50,238.41 L385.00,238.41 L385.50,238.41 L386.00,238.41 L386.50,238.41 L387.00,238.41 L387.50,238.41 L388.00,238.41 L388.50,238.41 L389.00,238.41 L389.50,238.41 L390.00,238.42 L390.50,238.42 L391.00,238.42 L391.50,238.42 L392.00,238.42 L392.50,238.42 L393.00,238.42 L393.50,238.42 L394.00,238.42 L394.50,238.42 L395.00,238.43 L395.50,238.43 L396.00,238.43 L396.50,238.43 L397.00,238.43 L397.50,238.43 L398.00,238.43 L398.50,238.43 L399.00,238.44 L399.50,238.44 L400.00,238.44 L400.50,238.44 L401.00,238.44 L401.50,238.44 L402.00,238.44 L402.50,238.44 L403.00,238.45 L403.50,238.45 L404.00,238.45 L404.50,238.45 L405.00,238.45 L405.50,238.45 L406.00,238.45 L406.50,238.46 L407.00,238.46 L407.50,238.46 L408.00,238.46 L408.50,238.46 L409.00,238.46 L409.50,238.46 L410.00,238.47 L410.50,238.47 L411.00,238.47 L411.50,238.47 L412.00,238.47 L412.50,238.47 L413.00,238.47 L413.50,238.48 L414.00,238.48 L414.50,238.48 L415.00,238.48 L415.50,238.48 L416.00,238.48 L416.50,238.48 L417.00,238.49 L417.50,238.49 L418.00,238.49 L418.50,238.49 L419.00,238.49 L419.50,238.49 L420.00,238.50 L420.50,238.50 L421.00,238.50 L421.50,238.50 L421.50,238.50" stroke="#00ff00" stroke-width="2.9"/>
</g>
<g stroke="#000" stroke-opacity="0.5" stroke-width="0.85" fill="none">
<path d="M420.5,4.4 V239.8" stroke="#727272" stroke-opacity="1" stroke-width="1"/>
<path d="M40.70,239.4 v-4.8 M40.70,4.8 v4.8 M53.36,239.4 v-3.1 M53.36,4.8 v3.1 M66.03,239.4 v-3.1 M66.03,4.8 v3.1 M78.69,239.4 v-3.1 M78.69,4.8 v3.1 M91.35,239.4 v-4.8 M91.35,4.8 v4.8 M104.02,239.4 v-3.1 M104.02,4.8 v3.1 M116.68,239.4 v-3.1 M116.68,4.8 v3.1 M129.34,239.4 v-3.1 M129.34,4.8 v3.1 M142.01,239.4 v-4.8 M142.01,4.8 v4.8 M154.67,239.4 v-3.1 M154.67,4.8 v3.1 M167.33,239.4 v-3.1 M167.33,4.8 v3.1 M180.00,239.4 v-3.1 M180.00,4.8 v3.1 M192.66,239.4 v-4.8 M192.66,4.8 v4.8 M205.32,239.4 v-3.1 M205.32,4.8 v3.1 M217.99,239.4 v-3.1 M217.99,4.8 v3.1 M230.65,239.4 v-3.1 M230.65,4.8 v3.1 M243.31,239.4 v-4.8 M243.31,4.8 v4.8 M255.98,239.4 v-3.1 M255.98,4.8 v3.1 M268.64,239.4 v-3.1 M268.64,4.8 v3.1 M281.30,239.4 v-3.1 M281.30,4.8 v3.1 M293.97,239.4 v-4.8 M293.97,4.8 v4.8 M306.63,239.4 v-3.1 M306.63,4.8 v3.1 M319.29,239.4 v-3.1 M319.29,4.8 v3.1 M331.96,239.4 v-3.1 M331.96,4.8 v3.1 M344.62,239.4 v-4.8 M344.62,4.8 v4.8 M357.28,239.4 v-3.1 M357.28,4.8 v3.1 M369.95,239.4 v-3.1 M369.95,4.8 v3.1 M382.61,239.4 v-3.1 M382.61,4.8 v3.1 M395.27,239.4 v-4.8 M395.27,4.8 v4.8 M407.94,239.4 v-3.1 M407.94,4.8 v3.1 M420.60,239.4 v-3.1 M420.60,4.8 v3.1 M40.7,239.40 h4.8 M420.6,239.40 h-4.8 M40.7,227.67 h3.1 M420.6,227.67 h-3.1 M40.7,215.94 h3.1 M420.6,215.94 h-3.1 M40.7,204.21 h3.1 M420.6,204.21 h-3.1 M40.7,192.48 h4.8 M420.6,192.48 h-4.8 M40.7,180.75 h3.1 M420.6,180.75 h-3.1 M40.7,169.02 h3.1 M420.6,169.02 h-3.1 M40.7,157.29 h3.1 M420.6,157.29 h-3.1 M40.7,145.56 h4.8 M420.6,145.56 h-4.8 M40.7,133.83 h3.1 M420.6,133.83 h-3.1 M40.7,122.10 h3.1 M420.6,122.10 h-3.1 M40.7,110.37 h3.1 M420.6,110.37 h-3.1 M40.7,98.64 h4.8 M420.6,98.64 h-4.8 M40.7,86.91 h3.1 M420.6,86.91 h-3.1 M40.7,75.18 h3.1 M420.6,75.18 h-3.1 M40.7,63.45 h3.1 M420.6,63.45 h-3.1 M40.7,51.72 h4.8 M420.6,51.72 h-4.8 M40.7,39.99 h3.1 M420.6,39.99 h-3.1 M40.7,28.26 h3.1 M420.6,28.26 h-3.1 M40.7,16.53 h3.1 M420.6,16.53 h-3.1 M40.7,4.80 h4.8 M420.6,4.80 h-4.8"/>
</g>
<g font-family="'Liberation Sans', sans-serif" font-size="10.3" fill="#111" stroke="#111" stroke-width="0.2">
<text x="40.30" y="251.7" text-anchor="middle">0.0</text>
<text x="90.95" y="251.7" text-anchor="middle">0.2</text>
<text x="141.61" y="251.7" text-anchor="middle">0.4</text>
<text x="192.26" y="251.7" text-anchor="middle">0.6</text>
<text x="242.91" y="251.7" text-anchor="middle">0.8</text>
<text x="293.57" y="251.7" text-anchor="middle">1.0</text>
<text x="344.22" y="251.7" text-anchor="middle">1.2</text>
<text x="394.87" y="251.7" text-anchor="middle">1.4</text>
<text x="37.3" y="243.20" text-anchor="end">0</text>
<text x="37.3" y="196.28" text-anchor="end">20</text>
<text x="37.3" y="149.36" text-anchor="end">40</text>
<text x="37.3" y="102.44" text-anchor="end">60</text>
<text x="37.3" y="55.52" text-anchor="end">80</text>
<text x="37.3" y="8.60" text-anchor="end">100</text>
</g>
<g font-family="'Liberation Sans', sans-serif" fill="#111" stroke="#111" stroke-width="0.2">
<text x="211.2" y="269.5" font-size="10.6"><tspan font-style="italic">ω</tspan> (GeV)</text>
<g transform="translate(5.9,129.2) rotate(-90)"><text x="0" y="0" font-size="11" font-style="italic" transform="scale(1.25,1)">φ</text><text x="8.3" y="4.2" font-size="8">2</text></g>
</g>
<g fill="none">
<path d="M62.4,25.8 H98" stroke="#0000ff" stroke-width="2.5"/>
<path d="M62.4,41.35 H97.7" stroke="#ff8000" stroke-width="2.6" stroke-dasharray="3.4 2.5"/>
<path d="M62.4,56.95 H98" stroke="#ff0000" stroke-width="2.5" stroke-dasharray="7.3 2.2"/>
<path d="M62.4,72.6 H98" stroke="#ff00ff" stroke-width="2.5" stroke-dasharray="3.7 2.3 7.1 2.3"/>
<path d="M62.4,88.3 H98" stroke="#00ff00" stroke-width="2.5"/>
</g>
<g font-family="'Liberation Sans', sans-serif" font-size="9.3" fill="#111" stroke="#111" stroke-width="0.22">
<text x="102.8" y="28.10">T=0.01 (GeV)</text>
<text x="102.8" y="43.65">T=0.05 (GeV)</text>
<text x="102.8" y="59.25">T=0.10 (GeV)</text>
<text x="102.8" y="74.90">T=0.15 (GeV)</text>
<text x="102.8" y="90.60">T=0.20 (GeV)</text>
</g>
</svg>
</body></html>
